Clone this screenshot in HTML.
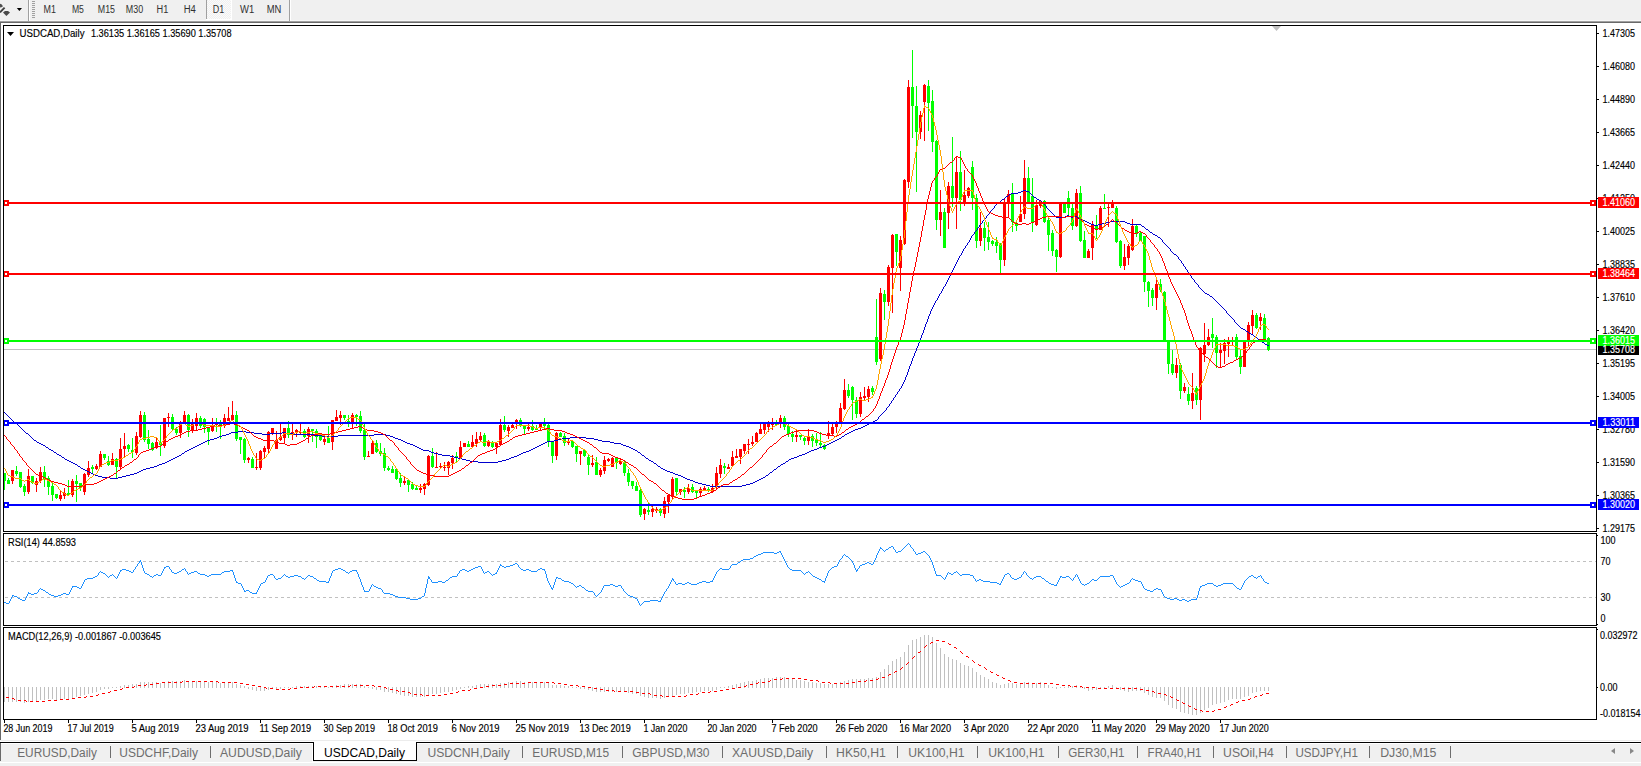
<!DOCTYPE html>
<html><head><meta charset="utf-8"><style>
html,body{margin:0;padding:0;background:#fff;overflow:hidden;}
svg{display:block;font-family:"Liberation Sans", sans-serif;}
</style></head><body>
<svg width="1641" height="766" viewBox="0 0 1641 766">
<rect x="0" y="0" width="1641" height="21" fill="#f0f0f0"/>
<rect x="0" y="20" width="1641" height="1" fill="#f7f7f7"/>
<rect x="0" y="21" width="1641" height="1" fill="#a0a0a0"/>
<rect x="0" y="22" width="1641" height="1" fill="#696969"/>
<rect x="28" y="0" width="1" height="21" fill="#a0a0a0"/>
<rect x="29" y="0" width="1" height="21" fill="#fff"/>
<rect x="206" y="0" width="1" height="19" fill="#a0a0a0"/>
<rect x="289" y="0" width="1" height="21" fill="#a0a0a0"/>
<rect x="290" y="0" width="1" height="21" fill="#fff"/>
<rect x="32" y="1" width="3" height="1" fill="#a0a0a0"/>
<rect x="32" y="3" width="3" height="1" fill="#a0a0a0"/>
<rect x="32" y="5" width="3" height="1" fill="#a0a0a0"/>
<rect x="32" y="7" width="3" height="1" fill="#a0a0a0"/>
<rect x="32" y="9" width="3" height="1" fill="#a0a0a0"/>
<rect x="32" y="11" width="3" height="1" fill="#a0a0a0"/>
<rect x="32" y="13" width="3" height="1" fill="#a0a0a0"/>
<rect x="32" y="15" width="3" height="1" fill="#a0a0a0"/>
<rect x="32" y="17" width="3" height="1" fill="#a0a0a0"/>
<defs><pattern id="dot" width="2" height="2" patternUnits="userSpaceOnUse"><rect width="2" height="2" fill="#f0f0f0"/><rect width="1" height="1" fill="#fbfbfb"/><rect x="1" y="1" width="1" height="1" fill="#fbfbfb"/></pattern></defs>
<rect x="207" y="0" width="24" height="19" fill="url(#dot)"/>
<rect x="231" y="0" width="1" height="20" fill="#fff"/>
<rect x="206" y="19" width="26" height="1" fill="#fff"/>
<path d="M0 3.8 L1.5 4.3 L3 6.2 L1.5 7.2 L0 7.4 Z" fill="#505050"/>
<path d="M4.6 7.6 L0 12.4" stroke="#404040" stroke-width="1.9" fill="none"/>
<path d="M5 11 L8 11 L10 12.4 L6.4 16 L3 12.4 Z" fill="#4a4a4a"/>
<path d="M16.8 8 L22 8 L19.4 10.9 Z" fill="#000"/>
<text x="43.6" y="12.8" font-size="10" fill="#303030" stroke="#303030" stroke-width="0" textLength="12.4" lengthAdjust="spacingAndGlyphs">M1</text>
<text x="71.9" y="12.8" font-size="10" fill="#303030" stroke="#303030" stroke-width="0" textLength="12" lengthAdjust="spacingAndGlyphs">M5</text>
<text x="97.8" y="12.8" font-size="10" fill="#303030" stroke="#303030" stroke-width="0" textLength="17.2" lengthAdjust="spacingAndGlyphs">M15</text>
<text x="125.8" y="12.8" font-size="10" fill="#303030" stroke="#303030" stroke-width="0" textLength="17.3" lengthAdjust="spacingAndGlyphs">M30</text>
<text x="156.5" y="12.8" font-size="10" fill="#303030" stroke="#303030" stroke-width="0" textLength="11.8" lengthAdjust="spacingAndGlyphs">H1</text>
<text x="183.7" y="12.8" font-size="10" fill="#303030" stroke="#303030" stroke-width="0" textLength="12.2" lengthAdjust="spacingAndGlyphs">H4</text>
<text x="212.7" y="12.8" font-size="10" fill="#303030" stroke="#303030" stroke-width="0" textLength="11.5" lengthAdjust="spacingAndGlyphs">D1</text>
<text x="240" y="12.8" font-size="10" fill="#303030" stroke="#303030" stroke-width="0" textLength="14.2" lengthAdjust="spacingAndGlyphs">W1</text>
<text x="266.7" y="12.8" font-size="10" fill="#303030" stroke="#303030" stroke-width="0" textLength="14.6" lengthAdjust="spacingAndGlyphs">MN</text>
<rect x="0" y="23" width="1641" height="720" fill="#fff"/>
<rect x="0" y="22" width="1" height="718" fill="#696969"/>
<defs><clipPath id="cm"><rect x="4" y="26" width="1592" height="505"/></clipPath><clipPath id="cr"><rect x="4" y="534" width="1592" height="91"/></clipPath><clipPath id="cd"><rect x="4" y="628" width="1592" height="91"/></clipPath></defs>
<g clip-path="url(#cm)">
<rect x="4" y="349" width="1592" height="1" fill="#c0c0c0"/>
<g shape-rendering="crispEdges">
<rect x="4" y="473" width="1" height="17" fill="#00ff00"/>
<rect x="3" y="473" width="3" height="8" fill="#00ff00"/>
<rect x="8" y="478" width="1" height="6" fill="#00ff00"/>
<rect x="7" y="480" width="3" height="4" fill="#00ff00"/>
<rect x="12" y="470" width="1" height="14" fill="#ff0000"/>
<rect x="11" y="470" width="3" height="11" fill="#ff0000"/>
<rect x="16" y="466" width="1" height="10" fill="#00ff00"/>
<rect x="15" y="471" width="3" height="3" fill="#00ff00"/>
<rect x="20" y="472" width="1" height="16" fill="#00ff00"/>
<rect x="19" y="472" width="3" height="15" fill="#00ff00"/>
<rect x="24" y="484" width="1" height="12" fill="#00ff00"/>
<rect x="23" y="486" width="3" height="6" fill="#00ff00"/>
<rect x="28" y="469" width="1" height="25" fill="#ff0000"/>
<rect x="27" y="476" width="3" height="16" fill="#ff0000"/>
<rect x="32" y="476" width="1" height="8" fill="#00ff00"/>
<rect x="31" y="476" width="3" height="7" fill="#00ff00"/>
<rect x="36" y="478" width="1" height="14" fill="#ff0000"/>
<rect x="35" y="481" width="3" height="4" fill="#ff0000"/>
<rect x="40" y="467" width="1" height="16" fill="#ff0000"/>
<rect x="39" y="472" width="3" height="9" fill="#ff0000"/>
<rect x="44" y="466" width="1" height="21" fill="#00ff00"/>
<rect x="43" y="472" width="3" height="7" fill="#00ff00"/>
<rect x="48" y="476" width="1" height="19" fill="#00ff00"/>
<rect x="47" y="478" width="3" height="9" fill="#00ff00"/>
<rect x="52" y="483" width="1" height="18" fill="#00ff00"/>
<rect x="51" y="486" width="3" height="9" fill="#00ff00"/>
<rect x="56" y="494" width="1" height="5" fill="#00ff00"/>
<rect x="55" y="494" width="3" height="4" fill="#00ff00"/>
<rect x="60" y="491" width="1" height="10" fill="#ff0000"/>
<rect x="59" y="495" width="3" height="4" fill="#ff0000"/>
<rect x="64" y="488" width="1" height="11" fill="#ff0000"/>
<rect x="63" y="493" width="3" height="3" fill="#ff0000"/>
<rect x="68" y="480" width="1" height="15" fill="#00ff00"/>
<rect x="67" y="493" width="3" height="2" fill="#00ff00"/>
<rect x="72" y="479" width="1" height="18" fill="#ff0000"/>
<rect x="71" y="481" width="3" height="14" fill="#ff0000"/>
<rect x="76" y="475" width="1" height="27" fill="#00ff00"/>
<rect x="75" y="481" width="3" height="3" fill="#00ff00"/>
<rect x="80" y="483" width="1" height="8" fill="#00ff00"/>
<rect x="79" y="483" width="3" height="5" fill="#00ff00"/>
<rect x="84" y="473" width="1" height="22" fill="#ff0000"/>
<rect x="83" y="474" width="3" height="18" fill="#ff0000"/>
<rect x="88" y="461" width="1" height="16" fill="#ff0000"/>
<rect x="87" y="468" width="3" height="7" fill="#ff0000"/>
<rect x="92" y="465" width="1" height="9" fill="#00ff00"/>
<rect x="91" y="467" width="3" height="2" fill="#00ff00"/>
<rect x="96" y="464" width="1" height="6" fill="#ff0000"/>
<rect x="95" y="466" width="3" height="3" fill="#ff0000"/>
<rect x="100" y="451" width="1" height="16" fill="#ff0000"/>
<rect x="99" y="454" width="3" height="13" fill="#ff0000"/>
<rect x="104" y="454" width="1" height="6" fill="#00ff00"/>
<rect x="103" y="454" width="3" height="4" fill="#00ff00"/>
<rect x="108" y="456" width="1" height="10" fill="#00ff00"/>
<rect x="107" y="461" width="3" height="4" fill="#00ff00"/>
<rect x="112" y="453" width="1" height="12" fill="#ff0000"/>
<rect x="111" y="459" width="3" height="6" fill="#ff0000"/>
<rect x="116" y="458" width="1" height="20" fill="#00ff00"/>
<rect x="115" y="459" width="3" height="8" fill="#00ff00"/>
<rect x="120" y="438" width="1" height="31" fill="#ff0000"/>
<rect x="119" y="449" width="3" height="18" fill="#ff0000"/>
<rect x="124" y="433" width="1" height="24" fill="#ff0000"/>
<rect x="123" y="446" width="3" height="3" fill="#ff0000"/>
<rect x="128" y="444" width="1" height="8" fill="#00ff00"/>
<rect x="127" y="445" width="3" height="4" fill="#00ff00"/>
<rect x="132" y="438" width="1" height="20" fill="#00ff00"/>
<rect x="131" y="450" width="3" height="2" fill="#00ff00"/>
<rect x="136" y="432" width="1" height="23" fill="#ff0000"/>
<rect x="135" y="436" width="3" height="17" fill="#ff0000"/>
<rect x="140" y="411" width="1" height="27" fill="#ff0000"/>
<rect x="139" y="415" width="3" height="22" fill="#ff0000"/>
<rect x="144" y="412" width="1" height="30" fill="#00ff00"/>
<rect x="143" y="415" width="3" height="25" fill="#00ff00"/>
<rect x="148" y="430" width="1" height="19" fill="#00ff00"/>
<rect x="147" y="439" width="3" height="5" fill="#00ff00"/>
<rect x="152" y="442" width="1" height="9" fill="#00ff00"/>
<rect x="151" y="443" width="3" height="7" fill="#00ff00"/>
<rect x="156" y="437" width="1" height="12" fill="#ff0000"/>
<rect x="155" y="442" width="3" height="6" fill="#ff0000"/>
<rect x="160" y="425" width="1" height="31" fill="#00ff00"/>
<rect x="159" y="443" width="3" height="2" fill="#00ff00"/>
<rect x="164" y="418" width="1" height="30" fill="#ff0000"/>
<rect x="163" y="418" width="3" height="28" fill="#ff0000"/>
<rect x="168" y="413" width="1" height="14" fill="#ff0000"/>
<rect x="167" y="417" width="3" height="1" fill="#ff0000"/>
<rect x="172" y="414" width="1" height="16" fill="#00ff00"/>
<rect x="171" y="417" width="3" height="12" fill="#00ff00"/>
<rect x="176" y="427" width="1" height="8" fill="#00ff00"/>
<rect x="175" y="429" width="3" height="4" fill="#00ff00"/>
<rect x="180" y="421" width="1" height="17" fill="#ff0000"/>
<rect x="179" y="424" width="3" height="9" fill="#ff0000"/>
<rect x="184" y="411" width="1" height="13" fill="#ff0000"/>
<rect x="183" y="415" width="3" height="8" fill="#ff0000"/>
<rect x="188" y="414" width="1" height="23" fill="#00ff00"/>
<rect x="187" y="415" width="3" height="15" fill="#00ff00"/>
<rect x="192" y="419" width="1" height="14" fill="#ff0000"/>
<rect x="191" y="424" width="3" height="6" fill="#ff0000"/>
<rect x="196" y="413" width="1" height="17" fill="#ff0000"/>
<rect x="195" y="418" width="3" height="8" fill="#ff0000"/>
<rect x="200" y="416" width="1" height="12" fill="#00ff00"/>
<rect x="199" y="418" width="3" height="8" fill="#00ff00"/>
<rect x="204" y="418" width="1" height="15" fill="#00ff00"/>
<rect x="203" y="419" width="3" height="8" fill="#00ff00"/>
<rect x="208" y="427" width="1" height="18" fill="#00ff00"/>
<rect x="207" y="428" width="3" height="4" fill="#00ff00"/>
<rect x="212" y="418" width="1" height="14" fill="#ff0000"/>
<rect x="211" y="425" width="3" height="6" fill="#ff0000"/>
<rect x="216" y="418" width="1" height="14" fill="#00ff00"/>
<rect x="215" y="423" width="3" height="2" fill="#00ff00"/>
<rect x="220" y="420" width="1" height="19" fill="#00ff00"/>
<rect x="219" y="422" width="3" height="4" fill="#00ff00"/>
<rect x="224" y="414" width="1" height="14" fill="#ff0000"/>
<rect x="223" y="418" width="3" height="8" fill="#ff0000"/>
<rect x="228" y="407" width="1" height="14" fill="#ff0000"/>
<rect x="227" y="418" width="3" height="3" fill="#ff0000"/>
<rect x="232" y="401" width="1" height="20" fill="#ff0000"/>
<rect x="231" y="415" width="3" height="5" fill="#ff0000"/>
<rect x="236" y="411" width="1" height="30" fill="#00ff00"/>
<rect x="235" y="415" width="3" height="24" fill="#00ff00"/>
<rect x="240" y="437" width="1" height="17" fill="#00ff00"/>
<rect x="239" y="437" width="3" height="3" fill="#00ff00"/>
<rect x="244" y="438" width="1" height="25" fill="#00ff00"/>
<rect x="243" y="439" width="3" height="21" fill="#00ff00"/>
<rect x="248" y="457" width="1" height="6" fill="#ff0000"/>
<rect x="247" y="458" width="3" height="2" fill="#ff0000"/>
<rect x="252" y="457" width="1" height="11" fill="#00ff00"/>
<rect x="251" y="459" width="3" height="9" fill="#00ff00"/>
<rect x="256" y="453" width="1" height="17" fill="#ff0000"/>
<rect x="255" y="467" width="3" height="1" fill="#ff0000"/>
<rect x="260" y="450" width="1" height="20" fill="#ff0000"/>
<rect x="259" y="451" width="3" height="17" fill="#ff0000"/>
<rect x="264" y="446" width="1" height="12" fill="#ff0000"/>
<rect x="263" y="448" width="3" height="4" fill="#ff0000"/>
<rect x="268" y="431" width="1" height="23" fill="#ff0000"/>
<rect x="267" y="432" width="3" height="17" fill="#ff0000"/>
<rect x="272" y="428" width="1" height="7" fill="#ff0000"/>
<rect x="271" y="428" width="3" height="6" fill="#ff0000"/>
<rect x="276" y="431" width="1" height="18" fill="#ff0000"/>
<rect x="275" y="440" width="3" height="9" fill="#ff0000"/>
<rect x="280" y="424" width="1" height="17" fill="#ff0000"/>
<rect x="279" y="437" width="3" height="3" fill="#ff0000"/>
<rect x="284" y="428" width="1" height="15" fill="#ff0000"/>
<rect x="283" y="428" width="3" height="10" fill="#ff0000"/>
<rect x="288" y="421" width="1" height="17" fill="#00ff00"/>
<rect x="287" y="428" width="3" height="7" fill="#00ff00"/>
<rect x="292" y="424" width="1" height="16" fill="#ff0000"/>
<rect x="291" y="432" width="3" height="3" fill="#ff0000"/>
<rect x="296" y="429" width="1" height="8" fill="#ff0000"/>
<rect x="295" y="430" width="3" height="2" fill="#ff0000"/>
<rect x="300" y="424" width="1" height="10" fill="#ff0000"/>
<rect x="299" y="432" width="3" height="1" fill="#ff0000"/>
<rect x="304" y="429" width="1" height="9" fill="#00ff00"/>
<rect x="303" y="431" width="3" height="6" fill="#00ff00"/>
<rect x="308" y="427" width="1" height="16" fill="#ff0000"/>
<rect x="307" y="429" width="3" height="7" fill="#ff0000"/>
<rect x="312" y="429" width="1" height="13" fill="#00ff00"/>
<rect x="311" y="429" width="3" height="2" fill="#00ff00"/>
<rect x="316" y="429" width="1" height="19" fill="#00ff00"/>
<rect x="315" y="431" width="3" height="6" fill="#00ff00"/>
<rect x="320" y="434" width="1" height="7" fill="#00ff00"/>
<rect x="319" y="436" width="3" height="4" fill="#00ff00"/>
<rect x="324" y="437" width="1" height="8" fill="#ff0000"/>
<rect x="323" y="439" width="3" height="3" fill="#ff0000"/>
<rect x="328" y="426" width="1" height="17" fill="#00ff00"/>
<rect x="327" y="438" width="3" height="5" fill="#00ff00"/>
<rect x="332" y="420" width="1" height="30" fill="#ff0000"/>
<rect x="331" y="420" width="3" height="22" fill="#ff0000"/>
<rect x="336" y="410" width="1" height="11" fill="#ff0000"/>
<rect x="335" y="417" width="3" height="4" fill="#ff0000"/>
<rect x="340" y="411" width="1" height="14" fill="#ff0000"/>
<rect x="339" y="415" width="3" height="3" fill="#ff0000"/>
<rect x="344" y="415" width="1" height="5" fill="#00ff00"/>
<rect x="343" y="415" width="3" height="3" fill="#00ff00"/>
<rect x="348" y="415" width="1" height="12" fill="#00ff00"/>
<rect x="347" y="421" width="3" height="1" fill="#00ff00"/>
<rect x="352" y="413" width="1" height="15" fill="#ff0000"/>
<rect x="351" y="415" width="3" height="7" fill="#ff0000"/>
<rect x="356" y="414" width="1" height="12" fill="#00ff00"/>
<rect x="355" y="415" width="3" height="2" fill="#00ff00"/>
<rect x="360" y="411" width="1" height="22" fill="#00ff00"/>
<rect x="359" y="416" width="3" height="15" fill="#00ff00"/>
<rect x="364" y="424" width="1" height="36" fill="#00ff00"/>
<rect x="363" y="430" width="3" height="27" fill="#00ff00"/>
<rect x="368" y="451" width="1" height="6" fill="#ff0000"/>
<rect x="367" y="456" width="3" height="1" fill="#ff0000"/>
<rect x="372" y="441" width="1" height="13" fill="#ff0000"/>
<rect x="371" y="443" width="3" height="11" fill="#ff0000"/>
<rect x="376" y="440" width="1" height="13" fill="#00ff00"/>
<rect x="375" y="443" width="3" height="9" fill="#00ff00"/>
<rect x="380" y="443" width="1" height="13" fill="#00ff00"/>
<rect x="379" y="451" width="3" height="3" fill="#00ff00"/>
<rect x="384" y="448" width="1" height="23" fill="#00ff00"/>
<rect x="383" y="453" width="3" height="15" fill="#00ff00"/>
<rect x="388" y="466" width="1" height="5" fill="#00ff00"/>
<rect x="387" y="468" width="3" height="2" fill="#00ff00"/>
<rect x="392" y="466" width="1" height="7" fill="#00ff00"/>
<rect x="391" y="469" width="3" height="4" fill="#00ff00"/>
<rect x="396" y="469" width="1" height="11" fill="#00ff00"/>
<rect x="395" y="469" width="3" height="10" fill="#00ff00"/>
<rect x="400" y="473" width="1" height="14" fill="#00ff00"/>
<rect x="399" y="478" width="3" height="5" fill="#00ff00"/>
<rect x="404" y="477" width="1" height="8" fill="#ff0000"/>
<rect x="403" y="481" width="3" height="2" fill="#ff0000"/>
<rect x="408" y="480" width="1" height="12" fill="#00ff00"/>
<rect x="407" y="480" width="3" height="5" fill="#00ff00"/>
<rect x="412" y="482" width="1" height="8" fill="#00ff00"/>
<rect x="411" y="484" width="3" height="5" fill="#00ff00"/>
<rect x="416" y="486" width="1" height="4" fill="#00ff00"/>
<rect x="415" y="488" width="3" height="2" fill="#00ff00"/>
<rect x="420" y="484" width="1" height="9" fill="#ff0000"/>
<rect x="419" y="488" width="3" height="2" fill="#ff0000"/>
<rect x="424" y="483" width="1" height="12" fill="#ff0000"/>
<rect x="423" y="484" width="3" height="5" fill="#ff0000"/>
<rect x="428" y="455" width="1" height="31" fill="#ff0000"/>
<rect x="427" y="456" width="3" height="29" fill="#ff0000"/>
<rect x="432" y="448" width="1" height="20" fill="#00ff00"/>
<rect x="431" y="456" width="3" height="11" fill="#00ff00"/>
<rect x="436" y="452" width="1" height="15" fill="#ff0000"/>
<rect x="435" y="467" width="3" height="1" fill="#ff0000"/>
<rect x="440" y="463" width="1" height="5" fill="#ff0000"/>
<rect x="439" y="466" width="3" height="1" fill="#ff0000"/>
<rect x="444" y="462" width="1" height="9" fill="#ff0000"/>
<rect x="443" y="467" width="3" height="1" fill="#ff0000"/>
<rect x="448" y="461" width="1" height="14" fill="#ff0000"/>
<rect x="447" y="462" width="3" height="6" fill="#ff0000"/>
<rect x="452" y="455" width="1" height="14" fill="#ff0000"/>
<rect x="451" y="458" width="3" height="5" fill="#ff0000"/>
<rect x="456" y="452" width="1" height="10" fill="#00ff00"/>
<rect x="455" y="456" width="3" height="2" fill="#00ff00"/>
<rect x="460" y="441" width="1" height="17" fill="#ff0000"/>
<rect x="459" y="447" width="3" height="11" fill="#ff0000"/>
<rect x="464" y="443" width="1" height="4" fill="#ff0000"/>
<rect x="463" y="443" width="3" height="4" fill="#ff0000"/>
<rect x="468" y="441" width="1" height="6" fill="#00ff00"/>
<rect x="467" y="444" width="3" height="3" fill="#00ff00"/>
<rect x="472" y="435" width="1" height="12" fill="#ff0000"/>
<rect x="471" y="442" width="3" height="5" fill="#ff0000"/>
<rect x="476" y="432" width="1" height="15" fill="#ff0000"/>
<rect x="475" y="439" width="3" height="5" fill="#ff0000"/>
<rect x="480" y="432" width="1" height="9" fill="#ff0000"/>
<rect x="479" y="436" width="3" height="4" fill="#ff0000"/>
<rect x="484" y="433" width="1" height="14" fill="#00ff00"/>
<rect x="483" y="435" width="3" height="11" fill="#00ff00"/>
<rect x="488" y="440" width="1" height="7" fill="#ff0000"/>
<rect x="487" y="442" width="3" height="4" fill="#ff0000"/>
<rect x="492" y="441" width="1" height="7" fill="#00ff00"/>
<rect x="491" y="443" width="3" height="4" fill="#00ff00"/>
<rect x="496" y="443" width="1" height="11" fill="#ff0000"/>
<rect x="495" y="443" width="3" height="4" fill="#ff0000"/>
<rect x="500" y="419" width="1" height="26" fill="#ff0000"/>
<rect x="499" y="425" width="3" height="20" fill="#ff0000"/>
<rect x="504" y="416" width="1" height="16" fill="#00ff00"/>
<rect x="503" y="425" width="3" height="5" fill="#00ff00"/>
<rect x="508" y="425" width="1" height="12" fill="#ff0000"/>
<rect x="507" y="427" width="3" height="4" fill="#ff0000"/>
<rect x="512" y="424" width="1" height="4" fill="#ff0000"/>
<rect x="511" y="425" width="3" height="3" fill="#ff0000"/>
<rect x="516" y="419" width="1" height="10" fill="#ff0000"/>
<rect x="515" y="420" width="3" height="4" fill="#ff0000"/>
<rect x="520" y="418" width="1" height="9" fill="#00ff00"/>
<rect x="519" y="420" width="3" height="6" fill="#00ff00"/>
<rect x="524" y="426" width="1" height="8" fill="#00ff00"/>
<rect x="523" y="426" width="3" height="3" fill="#00ff00"/>
<rect x="528" y="424" width="1" height="7" fill="#ff0000"/>
<rect x="527" y="427" width="3" height="2" fill="#ff0000"/>
<rect x="532" y="420" width="1" height="11" fill="#00ff00"/>
<rect x="531" y="426" width="3" height="4" fill="#00ff00"/>
<rect x="536" y="425" width="1" height="5" fill="#00ff00"/>
<rect x="535" y="428" width="3" height="2" fill="#00ff00"/>
<rect x="540" y="424" width="1" height="6" fill="#ff0000"/>
<rect x="539" y="424" width="3" height="4" fill="#ff0000"/>
<rect x="544" y="418" width="1" height="11" fill="#00ff00"/>
<rect x="543" y="424" width="3" height="2" fill="#00ff00"/>
<rect x="548" y="424" width="1" height="23" fill="#00ff00"/>
<rect x="547" y="425" width="3" height="17" fill="#00ff00"/>
<rect x="552" y="441" width="1" height="22" fill="#00ff00"/>
<rect x="551" y="442" width="3" height="14" fill="#00ff00"/>
<rect x="556" y="432" width="1" height="28" fill="#ff0000"/>
<rect x="555" y="433" width="3" height="23" fill="#ff0000"/>
<rect x="560" y="432" width="1" height="5" fill="#00ff00"/>
<rect x="559" y="433" width="3" height="4" fill="#00ff00"/>
<rect x="564" y="433" width="1" height="13" fill="#00ff00"/>
<rect x="563" y="436" width="3" height="7" fill="#00ff00"/>
<rect x="568" y="438" width="1" height="7" fill="#ff0000"/>
<rect x="567" y="442" width="3" height="1" fill="#ff0000"/>
<rect x="572" y="440" width="1" height="8" fill="#00ff00"/>
<rect x="571" y="441" width="3" height="6" fill="#00ff00"/>
<rect x="576" y="446" width="1" height="16" fill="#00ff00"/>
<rect x="575" y="446" width="3" height="8" fill="#00ff00"/>
<rect x="580" y="451" width="1" height="14" fill="#ff0000"/>
<rect x="579" y="451" width="3" height="3" fill="#ff0000"/>
<rect x="584" y="450" width="1" height="7" fill="#00ff00"/>
<rect x="583" y="450" width="3" height="6" fill="#00ff00"/>
<rect x="588" y="455" width="1" height="20" fill="#00ff00"/>
<rect x="587" y="457" width="3" height="8" fill="#00ff00"/>
<rect x="592" y="455" width="1" height="12" fill="#ff0000"/>
<rect x="591" y="463" width="3" height="2" fill="#ff0000"/>
<rect x="596" y="457" width="1" height="18" fill="#00ff00"/>
<rect x="595" y="462" width="3" height="13" fill="#00ff00"/>
<rect x="600" y="468" width="1" height="9" fill="#ff0000"/>
<rect x="599" y="470" width="3" height="5" fill="#ff0000"/>
<rect x="604" y="456" width="1" height="18" fill="#ff0000"/>
<rect x="603" y="460" width="3" height="11" fill="#ff0000"/>
<rect x="608" y="458" width="1" height="4" fill="#ff0000"/>
<rect x="607" y="459" width="3" height="2" fill="#ff0000"/>
<rect x="612" y="457" width="1" height="10" fill="#ff0000"/>
<rect x="611" y="458" width="3" height="9" fill="#ff0000"/>
<rect x="616" y="458" width="1" height="11" fill="#00ff00"/>
<rect x="615" y="458" width="3" height="5" fill="#00ff00"/>
<rect x="620" y="459" width="1" height="6" fill="#ff0000"/>
<rect x="619" y="461" width="3" height="3" fill="#ff0000"/>
<rect x="624" y="461" width="1" height="15" fill="#00ff00"/>
<rect x="623" y="462" width="3" height="11" fill="#00ff00"/>
<rect x="628" y="469" width="1" height="17" fill="#00ff00"/>
<rect x="627" y="473" width="3" height="9" fill="#00ff00"/>
<rect x="632" y="481" width="1" height="8" fill="#00ff00"/>
<rect x="631" y="481" width="3" height="5" fill="#00ff00"/>
<rect x="636" y="482" width="1" height="9" fill="#00ff00"/>
<rect x="635" y="486" width="3" height="5" fill="#00ff00"/>
<rect x="640" y="487" width="1" height="30" fill="#00ff00"/>
<rect x="639" y="490" width="3" height="25" fill="#00ff00"/>
<rect x="644" y="508" width="1" height="12" fill="#ff0000"/>
<rect x="643" y="509" width="3" height="5" fill="#ff0000"/>
<rect x="648" y="503" width="1" height="12" fill="#00ff00"/>
<rect x="647" y="510" width="3" height="2" fill="#00ff00"/>
<rect x="652" y="506" width="1" height="11" fill="#ff0000"/>
<rect x="651" y="509" width="3" height="3" fill="#ff0000"/>
<rect x="656" y="507" width="1" height="6" fill="#ff0000"/>
<rect x="655" y="509" width="3" height="2" fill="#ff0000"/>
<rect x="660" y="508" width="1" height="8" fill="#00ff00"/>
<rect x="659" y="509" width="3" height="4" fill="#00ff00"/>
<rect x="664" y="497" width="1" height="21" fill="#ff0000"/>
<rect x="663" y="501" width="3" height="13" fill="#ff0000"/>
<rect x="668" y="494" width="1" height="19" fill="#ff0000"/>
<rect x="667" y="495" width="3" height="7" fill="#ff0000"/>
<rect x="672" y="477" width="1" height="22" fill="#ff0000"/>
<rect x="671" y="479" width="3" height="18" fill="#ff0000"/>
<rect x="676" y="478" width="1" height="18" fill="#00ff00"/>
<rect x="675" y="478" width="3" height="14" fill="#00ff00"/>
<rect x="680" y="489" width="1" height="6" fill="#ff0000"/>
<rect x="679" y="489" width="3" height="3" fill="#ff0000"/>
<rect x="684" y="487" width="1" height="11" fill="#00ff00"/>
<rect x="683" y="490" width="3" height="2" fill="#00ff00"/>
<rect x="688" y="484" width="1" height="10" fill="#ff0000"/>
<rect x="687" y="488" width="3" height="4" fill="#ff0000"/>
<rect x="692" y="484" width="1" height="9" fill="#00ff00"/>
<rect x="691" y="487" width="3" height="5" fill="#00ff00"/>
<rect x="696" y="490" width="1" height="8" fill="#00ff00"/>
<rect x="695" y="491" width="3" height="2" fill="#00ff00"/>
<rect x="700" y="487" width="1" height="10" fill="#ff0000"/>
<rect x="699" y="489" width="3" height="4" fill="#ff0000"/>
<rect x="704" y="486" width="1" height="5" fill="#ff0000"/>
<rect x="703" y="488" width="3" height="3" fill="#ff0000"/>
<rect x="708" y="487" width="1" height="5" fill="#00ff00"/>
<rect x="707" y="489" width="3" height="2" fill="#00ff00"/>
<rect x="712" y="484" width="1" height="8" fill="#ff0000"/>
<rect x="711" y="488" width="3" height="4" fill="#ff0000"/>
<rect x="716" y="467" width="1" height="22" fill="#ff0000"/>
<rect x="715" y="473" width="3" height="14" fill="#ff0000"/>
<rect x="720" y="459" width="1" height="19" fill="#ff0000"/>
<rect x="719" y="465" width="3" height="9" fill="#ff0000"/>
<rect x="724" y="463" width="1" height="11" fill="#00ff00"/>
<rect x="723" y="466" width="3" height="2" fill="#00ff00"/>
<rect x="728" y="464" width="1" height="5" fill="#ff0000"/>
<rect x="727" y="467" width="3" height="2" fill="#ff0000"/>
<rect x="732" y="451" width="1" height="15" fill="#ff0000"/>
<rect x="731" y="457" width="3" height="9" fill="#ff0000"/>
<rect x="736" y="449" width="1" height="9" fill="#ff0000"/>
<rect x="735" y="456" width="3" height="2" fill="#ff0000"/>
<rect x="740" y="449" width="1" height="15" fill="#ff0000"/>
<rect x="739" y="449" width="3" height="8" fill="#ff0000"/>
<rect x="744" y="444" width="1" height="10" fill="#ff0000"/>
<rect x="743" y="444" width="3" height="7" fill="#ff0000"/>
<rect x="748" y="439" width="1" height="15" fill="#ff0000"/>
<rect x="747" y="444" width="3" height="1" fill="#ff0000"/>
<rect x="752" y="436" width="1" height="10" fill="#ff0000"/>
<rect x="751" y="442" width="3" height="2" fill="#ff0000"/>
<rect x="756" y="432" width="1" height="10" fill="#ff0000"/>
<rect x="755" y="433" width="3" height="9" fill="#ff0000"/>
<rect x="760" y="424" width="1" height="10" fill="#ff0000"/>
<rect x="759" y="429" width="3" height="5" fill="#ff0000"/>
<rect x="764" y="424" width="1" height="10" fill="#ff0000"/>
<rect x="763" y="424" width="3" height="6" fill="#ff0000"/>
<rect x="768" y="421" width="1" height="11" fill="#ff0000"/>
<rect x="767" y="424" width="3" height="3" fill="#ff0000"/>
<rect x="772" y="418" width="1" height="12" fill="#ff0000"/>
<rect x="771" y="424" width="3" height="1" fill="#ff0000"/>
<rect x="776" y="420" width="1" height="5" fill="#00ff00"/>
<rect x="775" y="423" width="3" height="2" fill="#00ff00"/>
<rect x="780" y="415" width="1" height="13" fill="#ff0000"/>
<rect x="779" y="418" width="3" height="4" fill="#ff0000"/>
<rect x="784" y="416" width="1" height="14" fill="#00ff00"/>
<rect x="783" y="418" width="3" height="9" fill="#00ff00"/>
<rect x="788" y="424" width="1" height="13" fill="#00ff00"/>
<rect x="787" y="426" width="3" height="8" fill="#00ff00"/>
<rect x="792" y="431" width="1" height="11" fill="#00ff00"/>
<rect x="791" y="434" width="3" height="3" fill="#00ff00"/>
<rect x="796" y="430" width="1" height="12" fill="#ff0000"/>
<rect x="795" y="435" width="3" height="2" fill="#ff0000"/>
<rect x="800" y="435" width="1" height="5" fill="#00ff00"/>
<rect x="799" y="435" width="3" height="2" fill="#00ff00"/>
<rect x="804" y="437" width="1" height="8" fill="#00ff00"/>
<rect x="803" y="438" width="3" height="3" fill="#00ff00"/>
<rect x="808" y="429" width="1" height="16" fill="#ff0000"/>
<rect x="807" y="436" width="3" height="5" fill="#ff0000"/>
<rect x="812" y="434" width="1" height="13" fill="#00ff00"/>
<rect x="811" y="436" width="3" height="5" fill="#00ff00"/>
<rect x="816" y="433" width="1" height="13" fill="#00ff00"/>
<rect x="815" y="440" width="3" height="3" fill="#00ff00"/>
<rect x="820" y="432" width="1" height="15" fill="#00ff00"/>
<rect x="819" y="443" width="3" height="2" fill="#00ff00"/>
<rect x="824" y="444" width="1" height="6" fill="#00ff00"/>
<rect x="823" y="445" width="3" height="4" fill="#00ff00"/>
<rect x="828" y="421" width="1" height="18" fill="#ff0000"/>
<rect x="827" y="433" width="3" height="3" fill="#ff0000"/>
<rect x="832" y="424" width="1" height="11" fill="#ff0000"/>
<rect x="831" y="427" width="3" height="7" fill="#ff0000"/>
<rect x="836" y="421" width="1" height="12" fill="#ff0000"/>
<rect x="835" y="424" width="3" height="3" fill="#ff0000"/>
<rect x="840" y="403" width="1" height="21" fill="#ff0000"/>
<rect x="839" y="408" width="3" height="15" fill="#ff0000"/>
<rect x="844" y="379" width="1" height="31" fill="#ff0000"/>
<rect x="843" y="390" width="3" height="19" fill="#ff0000"/>
<rect x="848" y="384" width="1" height="14" fill="#00ff00"/>
<rect x="847" y="390" width="3" height="6" fill="#00ff00"/>
<rect x="852" y="386" width="1" height="34" fill="#00ff00"/>
<rect x="851" y="387" width="3" height="13" fill="#00ff00"/>
<rect x="856" y="397" width="1" height="21" fill="#00ff00"/>
<rect x="855" y="400" width="3" height="14" fill="#00ff00"/>
<rect x="860" y="392" width="1" height="25" fill="#ff0000"/>
<rect x="859" y="397" width="3" height="17" fill="#ff0000"/>
<rect x="864" y="387" width="1" height="14" fill="#ff0000"/>
<rect x="863" y="396" width="3" height="2" fill="#ff0000"/>
<rect x="868" y="386" width="1" height="16" fill="#ff0000"/>
<rect x="867" y="389" width="3" height="8" fill="#ff0000"/>
<rect x="872" y="386" width="1" height="9" fill="#00ff00"/>
<rect x="871" y="388" width="3" height="4" fill="#00ff00"/>
<rect x="876" y="299" width="1" height="66" fill="#00ff00"/>
<rect x="875" y="337" width="3" height="25" fill="#00ff00"/>
<rect x="880" y="288" width="1" height="73" fill="#ff0000"/>
<rect x="879" y="293" width="3" height="66" fill="#ff0000"/>
<rect x="884" y="290" width="1" height="30" fill="#00ff00"/>
<rect x="883" y="294" width="3" height="8" fill="#00ff00"/>
<rect x="888" y="265" width="1" height="41" fill="#ff0000"/>
<rect x="887" y="267" width="3" height="35" fill="#ff0000"/>
<rect x="892" y="234" width="1" height="79" fill="#ff0000"/>
<rect x="891" y="235" width="3" height="33" fill="#ff0000"/>
<rect x="896" y="234" width="1" height="32" fill="#00ff00"/>
<rect x="895" y="234" width="3" height="18" fill="#00ff00"/>
<rect x="900" y="236" width="1" height="55" fill="#ff0000"/>
<rect x="899" y="240" width="3" height="28" fill="#ff0000"/>
<rect x="904" y="179" width="1" height="66" fill="#ff0000"/>
<rect x="903" y="180" width="3" height="64" fill="#ff0000"/>
<rect x="908" y="80" width="1" height="108" fill="#ff0000"/>
<rect x="907" y="87" width="3" height="95" fill="#ff0000"/>
<rect x="912" y="50" width="1" height="88" fill="#00ff00"/>
<rect x="911" y="87" width="3" height="19" fill="#00ff00"/>
<rect x="916" y="86" width="1" height="106" fill="#00ff00"/>
<rect x="915" y="106" width="3" height="26" fill="#00ff00"/>
<rect x="920" y="111" width="1" height="28" fill="#ff0000"/>
<rect x="919" y="115" width="3" height="17" fill="#ff0000"/>
<rect x="924" y="84" width="1" height="57" fill="#ff0000"/>
<rect x="923" y="85" width="3" height="17" fill="#ff0000"/>
<rect x="928" y="80" width="1" height="51" fill="#00ff00"/>
<rect x="927" y="86" width="3" height="17" fill="#00ff00"/>
<rect x="932" y="90" width="1" height="62" fill="#00ff00"/>
<rect x="931" y="101" width="3" height="41" fill="#00ff00"/>
<rect x="936" y="140" width="1" height="90" fill="#00ff00"/>
<rect x="935" y="141" width="3" height="79" fill="#00ff00"/>
<rect x="940" y="190" width="1" height="46" fill="#ff0000"/>
<rect x="939" y="212" width="3" height="8" fill="#ff0000"/>
<rect x="944" y="208" width="1" height="40" fill="#00ff00"/>
<rect x="943" y="212" width="3" height="36" fill="#00ff00"/>
<rect x="948" y="182" width="1" height="47" fill="#ff0000"/>
<rect x="947" y="186" width="3" height="27" fill="#ff0000"/>
<rect x="952" y="137" width="1" height="70" fill="#00ff00"/>
<rect x="951" y="186" width="3" height="12" fill="#00ff00"/>
<rect x="956" y="156" width="1" height="73" fill="#ff0000"/>
<rect x="955" y="172" width="3" height="26" fill="#ff0000"/>
<rect x="960" y="151" width="1" height="60" fill="#00ff00"/>
<rect x="959" y="172" width="3" height="28" fill="#00ff00"/>
<rect x="964" y="170" width="1" height="36" fill="#ff0000"/>
<rect x="963" y="195" width="3" height="8" fill="#ff0000"/>
<rect x="968" y="187" width="1" height="11" fill="#ff0000"/>
<rect x="967" y="188" width="3" height="8" fill="#ff0000"/>
<rect x="972" y="161" width="1" height="49" fill="#00ff00"/>
<rect x="971" y="167" width="3" height="31" fill="#00ff00"/>
<rect x="976" y="194" width="1" height="54" fill="#00ff00"/>
<rect x="975" y="198" width="3" height="43" fill="#00ff00"/>
<rect x="980" y="212" width="1" height="34" fill="#ff0000"/>
<rect x="979" y="228" width="3" height="13" fill="#ff0000"/>
<rect x="984" y="222" width="1" height="29" fill="#00ff00"/>
<rect x="983" y="228" width="3" height="10" fill="#00ff00"/>
<rect x="988" y="222" width="1" height="28" fill="#00ff00"/>
<rect x="987" y="237" width="3" height="5" fill="#00ff00"/>
<rect x="992" y="240" width="1" height="6" fill="#00ff00"/>
<rect x="991" y="241" width="3" height="3" fill="#00ff00"/>
<rect x="996" y="237" width="1" height="16" fill="#00ff00"/>
<rect x="995" y="242" width="3" height="4" fill="#00ff00"/>
<rect x="1000" y="243" width="1" height="30" fill="#00ff00"/>
<rect x="999" y="244" width="3" height="16" fill="#00ff00"/>
<rect x="1004" y="198" width="1" height="68" fill="#ff0000"/>
<rect x="1003" y="204" width="3" height="56" fill="#ff0000"/>
<rect x="1008" y="190" width="1" height="27" fill="#ff0000"/>
<rect x="1007" y="194" width="3" height="9" fill="#ff0000"/>
<rect x="1012" y="183" width="1" height="49" fill="#00ff00"/>
<rect x="1011" y="193" width="3" height="29" fill="#00ff00"/>
<rect x="1016" y="222" width="1" height="9" fill="#00ff00"/>
<rect x="1015" y="224" width="3" height="2" fill="#00ff00"/>
<rect x="1020" y="196" width="1" height="26" fill="#ff0000"/>
<rect x="1019" y="214" width="3" height="8" fill="#ff0000"/>
<rect x="1024" y="160" width="1" height="59" fill="#ff0000"/>
<rect x="1023" y="178" width="3" height="36" fill="#ff0000"/>
<rect x="1028" y="167" width="1" height="35" fill="#00ff00"/>
<rect x="1027" y="178" width="3" height="24" fill="#00ff00"/>
<rect x="1032" y="178" width="1" height="54" fill="#00ff00"/>
<rect x="1031" y="196" width="3" height="27" fill="#00ff00"/>
<rect x="1036" y="200" width="1" height="26" fill="#ff0000"/>
<rect x="1035" y="205" width="3" height="20" fill="#ff0000"/>
<rect x="1040" y="200" width="1" height="8" fill="#ff0000"/>
<rect x="1039" y="201" width="3" height="5" fill="#ff0000"/>
<rect x="1044" y="200" width="1" height="23" fill="#00ff00"/>
<rect x="1043" y="201" width="3" height="21" fill="#00ff00"/>
<rect x="1048" y="217" width="1" height="34" fill="#00ff00"/>
<rect x="1047" y="220" width="3" height="15" fill="#00ff00"/>
<rect x="1052" y="230" width="1" height="26" fill="#00ff00"/>
<rect x="1051" y="233" width="3" height="18" fill="#00ff00"/>
<rect x="1056" y="249" width="1" height="23" fill="#00ff00"/>
<rect x="1055" y="250" width="3" height="7" fill="#00ff00"/>
<rect x="1060" y="202" width="1" height="56" fill="#ff0000"/>
<rect x="1059" y="204" width="3" height="53" fill="#ff0000"/>
<rect x="1064" y="203" width="1" height="10" fill="#00ff00"/>
<rect x="1063" y="204" width="3" height="9" fill="#00ff00"/>
<rect x="1068" y="191" width="1" height="25" fill="#00ff00"/>
<rect x="1067" y="198" width="3" height="10" fill="#00ff00"/>
<rect x="1072" y="203" width="1" height="27" fill="#00ff00"/>
<rect x="1071" y="208" width="3" height="18" fill="#00ff00"/>
<rect x="1076" y="189" width="1" height="38" fill="#ff0000"/>
<rect x="1075" y="193" width="3" height="33" fill="#ff0000"/>
<rect x="1080" y="186" width="1" height="56" fill="#00ff00"/>
<rect x="1079" y="193" width="3" height="48" fill="#00ff00"/>
<rect x="1084" y="231" width="1" height="27" fill="#00ff00"/>
<rect x="1083" y="240" width="3" height="18" fill="#00ff00"/>
<rect x="1088" y="249" width="1" height="9" fill="#ff0000"/>
<rect x="1087" y="251" width="3" height="7" fill="#ff0000"/>
<rect x="1092" y="221" width="1" height="39" fill="#ff0000"/>
<rect x="1091" y="225" width="3" height="23" fill="#ff0000"/>
<rect x="1096" y="215" width="1" height="24" fill="#00ff00"/>
<rect x="1095" y="226" width="3" height="4" fill="#00ff00"/>
<rect x="1100" y="206" width="1" height="24" fill="#ff0000"/>
<rect x="1099" y="208" width="3" height="22" fill="#ff0000"/>
<rect x="1104" y="194" width="1" height="15" fill="#00ff00"/>
<rect x="1103" y="208" width="3" height="1" fill="#00ff00"/>
<rect x="1108" y="203" width="1" height="24" fill="#ff0000"/>
<rect x="1107" y="207" width="3" height="1" fill="#ff0000"/>
<rect x="1112" y="200" width="1" height="8" fill="#ff0000"/>
<rect x="1111" y="203" width="3" height="5" fill="#ff0000"/>
<rect x="1116" y="206" width="1" height="37" fill="#00ff00"/>
<rect x="1115" y="208" width="3" height="34" fill="#00ff00"/>
<rect x="1120" y="240" width="1" height="28" fill="#00ff00"/>
<rect x="1119" y="241" width="3" height="25" fill="#00ff00"/>
<rect x="1124" y="244" width="1" height="26" fill="#ff0000"/>
<rect x="1123" y="257" width="3" height="9" fill="#ff0000"/>
<rect x="1128" y="244" width="1" height="21" fill="#ff0000"/>
<rect x="1127" y="246" width="3" height="12" fill="#ff0000"/>
<rect x="1132" y="219" width="1" height="32" fill="#ff0000"/>
<rect x="1131" y="226" width="3" height="24" fill="#ff0000"/>
<rect x="1136" y="225" width="1" height="12" fill="#00ff00"/>
<rect x="1135" y="226" width="3" height="8" fill="#00ff00"/>
<rect x="1140" y="231" width="1" height="10" fill="#00ff00"/>
<rect x="1139" y="233" width="3" height="8" fill="#00ff00"/>
<rect x="1144" y="236" width="1" height="56" fill="#00ff00"/>
<rect x="1143" y="236" width="3" height="46" fill="#00ff00"/>
<rect x="1148" y="281" width="1" height="26" fill="#00ff00"/>
<rect x="1147" y="282" width="3" height="9" fill="#00ff00"/>
<rect x="1152" y="288" width="1" height="18" fill="#00ff00"/>
<rect x="1151" y="290" width="3" height="8" fill="#00ff00"/>
<rect x="1156" y="280" width="1" height="30" fill="#ff0000"/>
<rect x="1155" y="284" width="3" height="14" fill="#ff0000"/>
<rect x="1160" y="279" width="1" height="13" fill="#00ff00"/>
<rect x="1159" y="284" width="3" height="6" fill="#00ff00"/>
<rect x="1164" y="291" width="1" height="51" fill="#00ff00"/>
<rect x="1163" y="292" width="3" height="50" fill="#00ff00"/>
<rect x="1168" y="340" width="1" height="34" fill="#00ff00"/>
<rect x="1167" y="341" width="3" height="23" fill="#00ff00"/>
<rect x="1172" y="350" width="1" height="25" fill="#00ff00"/>
<rect x="1171" y="364" width="3" height="9" fill="#00ff00"/>
<rect x="1176" y="358" width="1" height="20" fill="#ff0000"/>
<rect x="1175" y="365" width="3" height="8" fill="#ff0000"/>
<rect x="1180" y="363" width="1" height="36" fill="#00ff00"/>
<rect x="1179" y="365" width="3" height="26" fill="#00ff00"/>
<rect x="1184" y="383" width="1" height="10" fill="#ff0000"/>
<rect x="1183" y="387" width="3" height="4" fill="#ff0000"/>
<rect x="1188" y="387" width="1" height="18" fill="#00ff00"/>
<rect x="1187" y="394" width="3" height="7" fill="#00ff00"/>
<rect x="1192" y="373" width="1" height="36" fill="#ff0000"/>
<rect x="1191" y="393" width="3" height="8" fill="#ff0000"/>
<rect x="1196" y="386" width="1" height="19" fill="#00ff00"/>
<rect x="1195" y="388" width="3" height="12" fill="#00ff00"/>
<rect x="1200" y="347" width="1" height="73" fill="#ff0000"/>
<rect x="1199" y="348" width="3" height="52" fill="#ff0000"/>
<rect x="1204" y="323" width="1" height="39" fill="#ff0000"/>
<rect x="1203" y="345" width="3" height="9" fill="#ff0000"/>
<rect x="1208" y="329" width="1" height="17" fill="#ff0000"/>
<rect x="1207" y="337" width="3" height="8" fill="#ff0000"/>
<rect x="1212" y="318" width="1" height="30" fill="#00ff00"/>
<rect x="1211" y="334" width="3" height="4" fill="#00ff00"/>
<rect x="1216" y="335" width="1" height="33" fill="#00ff00"/>
<rect x="1215" y="337" width="3" height="16" fill="#00ff00"/>
<rect x="1220" y="343" width="1" height="24" fill="#ff0000"/>
<rect x="1219" y="350" width="3" height="3" fill="#ff0000"/>
<rect x="1224" y="339" width="1" height="25" fill="#ff0000"/>
<rect x="1223" y="343" width="3" height="8" fill="#ff0000"/>
<rect x="1228" y="337" width="1" height="20" fill="#ff0000"/>
<rect x="1227" y="342" width="3" height="2" fill="#ff0000"/>
<rect x="1232" y="337" width="1" height="8" fill="#ff0000"/>
<rect x="1231" y="340" width="3" height="1" fill="#ff0000"/>
<rect x="1236" y="334" width="1" height="25" fill="#00ff00"/>
<rect x="1235" y="337" width="3" height="20" fill="#00ff00"/>
<rect x="1240" y="349" width="1" height="25" fill="#00ff00"/>
<rect x="1239" y="356" width="3" height="11" fill="#00ff00"/>
<rect x="1244" y="342" width="1" height="25" fill="#ff0000"/>
<rect x="1243" y="342" width="3" height="25" fill="#ff0000"/>
<rect x="1248" y="322" width="1" height="24" fill="#ff0000"/>
<rect x="1247" y="325" width="3" height="15" fill="#ff0000"/>
<rect x="1252" y="310" width="1" height="24" fill="#ff0000"/>
<rect x="1251" y="315" width="3" height="11" fill="#ff0000"/>
<rect x="1256" y="313" width="1" height="16" fill="#00ff00"/>
<rect x="1255" y="315" width="3" height="13" fill="#00ff00"/>
<rect x="1260" y="313" width="1" height="17" fill="#ff0000"/>
<rect x="1259" y="317" width="3" height="4" fill="#ff0000"/>
<rect x="1264" y="314" width="1" height="26" fill="#00ff00"/>
<rect x="1263" y="318" width="3" height="21" fill="#00ff00"/>
<rect x="1268" y="337" width="1" height="14" fill="#00ff00"/>
<rect x="1267" y="338" width="3" height="12" fill="#00ff00"/>
</g>
<path d="M916 348h1v3h-1zM1046 206h1v2h-1zM913 356h1v2h-1zM929 314h1v2h-1zM903 382h1v2h-1zM912 358h1v3h-1zM1162 240h1v2h-1zM1198 285h1v2h-1zM920 338h1v3h-1zM928 316h1v3h-1zM902 384h1v2h-1zM911 361h1v3h-1zM955 264h1v2h-1zM926 322h1v2h-1zM951 272h1v2h-1zM994 206h1v2h-1zM979 225h1v2h-1zM974 232h1v2h-1zM909 366h1v3h-1zM970 238h1v2h-1zM918 343h1v3h-1zM954 266h1v2h-1zM906 375h1v2h-1zM1234 320h1v2h-1zM982 221h1v2h-1zM937 298h1v2h-1zM950 274h1v2h-1zM933 305h1v2h-1zM922 333h1v2h-1zM905 377h1v3h-1zM949 276h1v2h-1zM921 335h1v3h-1zM919 341h1v2h-1zM915 351h1v2h-1zM935 301h1v2h-1zM886 408h1v2h-1zM931 309h1v2h-1zM1183 264h1v2h-1zM946 282h1v2h-1zM961 253h1v2h-1zM901 386h1v2h-1zM1185 267h1v2h-1zM945 284h1v2h-1zM941 291h1v2h-1zM925 324h1v3h-1zM977 228h1v2h-1zM895 395h1v2h-1zM956 262h1v2h-1zM891 401h1v2h-1zM878 417h1v2h-1zM971 236h1v2h-1zM967 243h1v2h-1zM914 353h1v3h-1zM962 251h1v2h-1zM958 258h1v2h-1zM904 380h1v2h-1zM908 369h1v3h-1zM957 260h1v2h-1zM953 268h1v2h-1zM899 389h1v2h-1zM932 307h1v2h-1zM952 270h1v2h-1zM948 278h1v2h-1zM1187 270h1v2h-1zM930 311h1v3h-1zM1189 273h1v2h-1zM889 404h1v2h-1zM1170 249h1v2h-1zM924 327h1v3h-1zM1191 276h1v2h-1zM907 372h1v3h-1zM923 330h1v3h-1zM927 319h1v3h-1zM910 364h1v2h-1zM1226 311h1v2h-1zM917 346h1v2h-1zM1181 261h1v2h-1zM969 240h1v2h-1zM965 246h1v2h-1zM947 280h1v2h-1zM943 287h1v2h-1zM939 294h1v2h-1zM893 398h1v2h-1zM986 216h1v2h-1zM942 289h1v2h-1zM938 296h1v2h-1zM934 303h1v2h-1zM963 249h1v2h-1zM959 256h1v2h-1zM1194 280h1v2h-1zM897 392h1v2h-1zM990 211h1v2h-1zM1178 257h1v2h-1zM1229 315h1v1h-1zM28 434h1v1h-1zM226 434h3v1h-3zM262 434h8v1h-8zM294 434h20v1h-20zM374 434h12v1h-12zM845 434h2v1h-2zM81 468h2v1h-2zM146 468h4v1h-4zM661 468h2v1h-2zM776 468h1v1h-1zM1200 288h1v1h-1zM71 462h2v1h-2zM165 462h2v1h-2zM478 462h20v1h-20zM653 462h1v1h-1zM785 462h1v1h-1zM37 442h2v1h-2zM203 442h2v1h-2zM405 442h2v1h-2zM545 442h2v1h-2zM610 442h4v1h-4zM831 442h2v1h-2zM1230 316h1v1h-1zM41 444h2v1h-2zM199 444h2v1h-2zM410 444h3v1h-3zM541 444h2v1h-2zM621 444h2v1h-2zM827 444h2v1h-2zM102 477h8v1h-8zM118 477h4v1h-4zM683 477h2v1h-2zM763 477h2v1h-2zM69 461h2v1h-2zM167 461h2v1h-2zM470 461h8v1h-8zM498 461h4v1h-4zM651 461h2v1h-2zM786 461h2v1h-2zM1001 200h1v1h-1zM1039 200h2v1h-2zM18 425h1v1h-1zM865 425h2v1h-2zM1087 222h2v1h-2zM1106 222h4v1h-4zM1125 222h2v1h-2zM45 446h1v1h-1zM195 446h2v1h-2zM415 446h2v1h-2zM537 446h2v1h-2zM626 446h3v1h-3zM822 446h3v1h-3zM61 456h1v1h-1zM177 456h2v1h-2zM450 456h4v1h-4zM514 456h3v1h-3zM644 456h1v1h-1zM797 456h2v1h-2zM31 437h1v1h-1zM217 437h2v1h-2zM393 437h2v1h-2zM570 437h16v1h-16zM841 437h1v1h-1zM710 486h32v1h-32zM62 457h2v1h-2zM175 457h2v1h-2zM454 457h4v1h-4zM511 457h3v1h-3zM645 457h1v1h-1zM794 457h3v1h-3zM67 460h2v1h-2zM169 460h2v1h-2zM466 460h4v1h-4zM502 460h4v1h-4zM649 460h2v1h-2zM788 460h1v1h-1zM972 235h1v1h-1zM1155 235h2v1h-2zM75 464h2v1h-2zM159 464h3v1h-3zM656 464h1v1h-1zM781 464h2v1h-2zM29 435h1v1h-1zM222 435h4v1h-4zM314 435h8v1h-8zM338 435h36v1h-36zM386 435h4v1h-4zM844 435h1v1h-1zM85 470h2v1h-2zM141 470h2v1h-2zM665 470h2v1h-2zM773 470h1v1h-1zM702 484h4v1h-4zM746 484h4v1h-4zM706 485h4v1h-4zM742 485h4v1h-4zM1094 225h4v1h-4zM1141 225h1v1h-1zM59 455h2v1h-2zM179 455h2v1h-2zM442 455h8v1h-8zM517 455h2v1h-2zM642 455h2v1h-2zM799 455h3v1h-3zM24 431h1v1h-1zM238 431h8v1h-8zM851 431h2v1h-2zM25 432h1v1h-1zM231 432h7v1h-7zM246 432h8v1h-8zM282 432h4v1h-4zM849 432h2v1h-2zM968 242h1v1h-1zM1163 242h1v1h-1zM49 449h2v1h-2zM189 449h2v1h-2zM421 449h2v1h-2zM531 449h2v1h-2zM633 449h2v1h-2zM814 449h3v1h-3zM91 473h2v1h-2zM134 473h3v1h-3zM673 473h2v1h-2zM769 473h1v1h-1zM1085 221h2v1h-2zM1110 221h15v1h-15zM26 433h2v1h-2zM229 433h2v1h-2zM254 433h8v1h-8zM270 433h12v1h-12zM286 433h8v1h-8zM847 433h2v1h-2zM43 445h2v1h-2zM197 445h2v1h-2zM413 445h2v1h-2zM539 445h2v1h-2zM623 445h3v1h-3zM825 445h2v1h-2zM78 466h2v1h-2zM154 466h3v1h-3zM658 466h2v1h-2zM778 466h2v1h-2zM110 478h8v1h-8zM685 478h2v1h-2zM761 478h2v1h-2zM988 214h1v1h-1zM1053 214h1v1h-1zM89 472h2v1h-2zM137 472h2v1h-2zM670 472h3v1h-3zM770 472h2v1h-2zM56 453h1v1h-1zM182 453h2v1h-2zM434 453h4v1h-4zM521 453h2v1h-2zM640 453h1v1h-1zM805 453h2v1h-2zM95 475h3v1h-3zM126 475h4v1h-4zM678 475h3v1h-3zM766 475h2v1h-2zM87 471h2v1h-2zM139 471h2v1h-2zM667 471h3v1h-3zM772 471h1v1h-1zM48 448h1v1h-1zM191 448h2v1h-2zM419 448h2v1h-2zM533 448h2v1h-2zM631 448h2v1h-2zM817 448h2v1h-2zM1150 232h2v1h-2zM73 463h2v1h-2zM162 463h3v1h-3zM654 463h2v1h-2zM783 463h2v1h-2zM51 450h2v1h-2zM187 450h2v1h-2zM423 450h6v1h-6zM529 450h2v1h-2zM635 450h2v1h-2zM811 450h3v1h-3zM16 423h1v1h-1zM869 423h2v1h-2zM5 413h1v1h-1zM882 413h1v1h-1zM17 424h1v1h-1zM867 424h2v1h-2zM23 430h1v1h-1zM853 430h2v1h-2zM6 414h1v1h-1zM881 414h1v1h-1zM93 474h2v1h-2zM130 474h4v1h-4zM675 474h3v1h-3zM768 474h1v1h-1zM65 459h2v1h-2zM171 459h2v1h-2zM462 459h4v1h-4zM506 459h3v1h-3zM648 459h1v1h-1zM789 459h2v1h-2zM1056 217h9v1h-9zM1071 217h3v1h-3zM1077 217h1v1h-1zM1021 191h2v1h-2zM1026 191h3v1h-3zM33 439h1v1h-1zM210 439h4v1h-4zM398 439h3v1h-3zM558 439h4v1h-4zM594 439h4v1h-4zM837 439h2v1h-2zM996 204h1v1h-1zM1044 204h1v1h-1zM698 483h4v1h-4zM750 483h3v1h-3zM964 248h1v1h-1zM1169 248h1v1h-1zM32 438h1v1h-1zM214 438h3v1h-3zM395 438h3v1h-3zM562 438h8v1h-8zM586 438h8v1h-8zM839 438h2v1h-2zM1146 229h2v1h-2zM991 210h1v1h-1zM1049 210h1v1h-1zM34 440h2v1h-2zM207 440h3v1h-3zM401 440h2v1h-2zM554 440h4v1h-4zM598 440h4v1h-4zM835 440h2v1h-2zM12 420h1v1h-1zM875 420h2v1h-2zM13 421h1v1h-1zM873 421h2v1h-2zM1257 338h1v1h-1zM36 441h1v1h-1zM205 441h2v1h-2zM403 441h2v1h-2zM547 441h7v1h-7zM602 441h8v1h-8zM833 441h2v1h-2zM46 447h2v1h-2zM193 447h2v1h-2zM417 447h2v1h-2zM535 447h2v1h-2zM629 447h2v1h-2zM819 447h3v1h-3zM1000 201h1v1h-1zM1041 201h1v1h-1zM1160 238h1v1h-1zM1161 239h1v1h-1zM980 224h1v1h-1zM1091 224h3v1h-3zM1098 224h4v1h-4zM1130 224h11v1h-11zM53 451h1v1h-1zM185 451h2v1h-2zM429 451h2v1h-2zM526 451h3v1h-3zM637 451h1v1h-1zM809 451h2v1h-2zM64 458h1v1h-1zM173 458h2v1h-2zM458 458h4v1h-4zM509 458h2v1h-2zM646 458h2v1h-2zM791 458h3v1h-3zM19 426h1v1h-1zM863 426h2v1h-2zM1251 334h2v1h-2zM985 218h1v1h-1zM1078 218h2v1h-2zM1212 297h1v1h-1zM1253 335h1v1h-1zM83 469h2v1h-2zM143 469h3v1h-3zM663 469h2v1h-2zM774 469h2v1h-2zM30 436h1v1h-1zM219 436h3v1h-3zM322 436h16v1h-16zM390 436h3v1h-3zM842 436h2v1h-2zM1004 198h1v1h-1zM1036 198h1v1h-1zM2 410h1v1h-1zM885 410h1v1h-1zM1157 236h1v1h-1zM14 422h2v1h-2zM871 422h2v1h-2zM1207 294h2v1h-2zM1009 194h2v1h-2zM1031 194h1v1h-1zM1023 190h3v1h-3zM1018 192h3v1h-3zM1029 192h1v1h-1zM695 482h3v1h-3zM753 482h2v1h-2zM1011 193h7v1h-7zM1030 193h1v1h-1zM1232 318h1v1h-1zM1008 195h1v1h-1zM1032 195h1v1h-1zM1203 291h1v1h-1zM57 454h2v1h-2zM181 454h1v1h-1zM438 454h4v1h-4zM519 454h2v1h-2zM641 454h1v1h-1zM802 454h3v1h-3zM1158 237h2v1h-2zM98 476h4v1h-4zM122 476h4v1h-4zM681 476h2v1h-2zM765 476h1v1h-1zM54 452h2v1h-2zM184 452h1v1h-1zM431 452h3v1h-3zM523 452h3v1h-3zM638 452h2v1h-2zM807 452h2v1h-2zM983 220h1v1h-1zM1082 220h3v1h-3zM944 286h1v1h-1zM1055 216h1v1h-1zM1065 216h2v1h-2zM1069 216h2v1h-2zM1074 216h3v1h-3zM1249 333h2v1h-2zM940 293h1v1h-1zM1205 293h2v1h-2zM984 219h1v1h-1zM1080 219h2v1h-2zM1006 196h2v1h-2zM1033 196h1v1h-1zM936 300h1v1h-1zM1215 300h1v1h-1zM887 407h1v1h-1zM995 205h1v1h-1zM1045 205h1v1h-1zM1165 244h1v1h-1zM973 234h1v1h-1zM1153 234h2v1h-2zM8 416h1v1h-1zM879 416h1v1h-1zM1245 330h1v1h-1zM1264 343h1v1h-1zM1265 344h2v1h-2zM1002 199h2v1h-2zM1037 199h2v1h-2zM890 403h1v1h-1zM77 465h1v1h-1zM157 465h2v1h-2zM657 465h1v1h-1zM780 465h1v1h-1zM1051 212h1v1h-1zM978 227h1v1h-1zM1144 227h1v1h-1zM981 223h1v1h-1zM1089 223h2v1h-2zM1102 223h4v1h-4zM1127 223h3v1h-3zM975 231h1v1h-1zM1149 231h1v1h-1zM21 428h1v1h-1zM858 428h3v1h-3zM693 481h2v1h-2zM755 481h2v1h-2zM1258 339h2v1h-2zM1197 284h1v1h-1zM1260 340h1v1h-1zM997 203h1v1h-1zM1043 203h1v1h-1zM1167 246h1v1h-1zM1214 299h1v1h-1zM1236 323h1v1h-1zM1254 336h2v1h-2zM1256 337h1v1h-1zM80 467h1v1h-1zM150 467h4v1h-4zM660 467h1v1h-1zM777 467h1v1h-1zM1184 266h1v1h-1zM1188 272h1v1h-1zM1199 287h1v1h-1zM1210 296h2v1h-2zM1243 329h2v1h-2zM1262 342h2v1h-2zM39 443h2v1h-2zM201 443h2v1h-2zM407 443h3v1h-3zM543 443h2v1h-2zM614 443h7v1h-7zM829 443h2v1h-2zM690 480h3v1h-3zM757 480h2v1h-2zM1238 325h1v1h-1zM1217 302h1v1h-1zM1239 326h1v1h-1zM1142 226h2v1h-2zM1186 269h1v1h-1zM1201 289h1v1h-1zM1202 290h1v1h-1zM687 479h3v1h-3zM759 479h2v1h-2zM993 208h1v1h-1zM1047 208h1v1h-1zM992 209h1v1h-1zM1048 209h1v1h-1zM20 427h1v1h-1zM861 427h2v1h-2zM1248 332h1v1h-1zM1267 345h2v1h-2zM1241 328h2v1h-2zM966 245h1v1h-1zM1166 245h1v1h-1zM1152 233h1v1h-1zM1164 243h1v1h-1zM1204 292h1v1h-1zM1050 211h1v1h-1zM900 388h1v1h-1zM7 415h1v1h-1zM880 415h1v1h-1zM1195 282h1v1h-1zM3 411h1v1h-1zM884 411h1v1h-1zM987 215h1v1h-1zM1054 215h1v1h-1zM1067 215h2v1h-2zM1213 298h1v1h-1zM1235 322h1v1h-1zM1246 331h2v1h-2zM998 202h2v1h-2zM1042 202h1v1h-1zM1219 304h1v1h-1zM1220 305h1v1h-1zM1209 295h1v1h-1zM1145 228h1v1h-1zM4 412h1v1h-1zM883 412h1v1h-1zM22 429h1v1h-1zM855 429h3v1h-3zM1237 324h1v1h-1zM1174 254h2v1h-2zM896 394h1v1h-1zM1222 307h1v1h-1zM989 213h1v1h-1zM1052 213h1v1h-1zM1261 341h1v1h-1zM1168 247h1v1h-1zM0 408h1v1h-1zM1193 279h1v1h-1zM894 397h1v1h-1zM11 419h1v1h-1zM877 419h1v1h-1zM1218 303h1v1h-1zM1240 327h1v1h-1zM976 230h1v1h-1zM1148 230h1v1h-1zM1177 256h1v1h-1zM1224 309h1v1h-1zM1005 197h1v1h-1zM1034 197h2v1h-2zM1172 252h1v1h-1zM1173 253h1v1h-1zM9 417h1v1h-1zM1221 306h1v1h-1zM892 400h1v1h-1zM1192 278h1v1h-1zM960 255h1v1h-1zM1176 255h1v1h-1zM1216 301h1v1h-1zM1231 317h1v1h-1zM898 391h1v1h-1zM1190 275h1v1h-1zM1 409h1v1h-1zM1223 308h1v1h-1zM1171 251h1v1h-1zM1233 319h1v1h-1zM888 406h1v1h-1zM1225 310h1v1h-1zM1196 283h1v1h-1zM10 418h1v1h-1zM1179 259h1v1h-1zM1180 260h1v1h-1zM1227 313h1v1h-1zM1228 314h1v1h-1zM1182 263h1v1h-1z" fill="#0000cd" shape-rendering="crispEdges"/>
<path d="M881 391h1v2h-1zM920 237h1v5h-1zM1163 261h1v2h-1zM925 210h1v5h-1zM1169 277h1v2h-1zM911 281h1v6h-1zM982 198h1v3h-1zM929 191h1v4h-1zM893 356h1v3h-1zM963 162h1v2h-1zM919 242h1v5h-1zM1187 320h1v3h-1zM1193 337h1v3h-1zM877 401h1v3h-1zM6 437h1v2h-1zM923 220h1v6h-1zM910 287h1v5h-1zM928 195h1v4h-1zM915 262h1v5h-1zM900 337h1v3h-1zM931 183h1v4h-1zM1168 274h1v3h-1zM1175 290h1v2h-1zM904 320h1v5h-1zM1246 351h1v2h-1zM909 292h1v6h-1zM884 383h1v3h-1zM927 199h1v5h-1zM1154 245h1v2h-1zM962 160h1v2h-1zM1188 323h1v3h-1zM899 340h1v2h-1zM912 276h1v5h-1zM1192 334h1v3h-1zM22 458h1v2h-1zM921 231h1v6h-1zM908 298h1v5h-1zM926 204h1v6h-1zM890 365h1v4h-1zM913 271h1v5h-1zM975 181h1v2h-1zM976 183h1v3h-1zM887 375h1v3h-1zM1177 294h1v2h-1zM398 448h1v2h-1zM1184 310h1v3h-1zM902 329h1v4h-1zM10 442h1v2h-1zM974 179h1v2h-1zM906 309h1v5h-1zM932 181h1v2h-1zM1251 344h1v2h-1zM981 196h1v2h-1zM1194 340h1v2h-1zM892 359h1v3h-1zM1165 266h1v3h-1zM896 347h1v3h-1zM26 463h1v2h-1zM883 386h1v2h-1zM1150 240h1v2h-1zM954 158h1v2h-1zM1189 326h1v3h-1zM930 187h1v4h-1zM917 252h1v5h-1zM895 350h1v3h-1zM1164 263h1v3h-1zM1170 279h1v3h-1zM14 447h1v2h-1zM394 443h1v2h-1zM964 164h1v2h-1zM907 303h1v6h-1zM766 450h1v2h-1zM876 404h1v2h-1zM1176 292h1v2h-1zM1179 298h1v2h-1zM1183 308h1v2h-1zM880 393h1v3h-1zM918 247h1v5h-1zM905 314h1v6h-1zM1178 296h1v2h-1zM922 226h1v5h-1zM1157 249h1v2h-1zM1160 254h1v2h-1zM886 378h1v2h-1zM916 257h1v5h-1zM898 342h1v3h-1zM924 215h1v5h-1zM885 380h1v3h-1zM889 369h1v3h-1zM897 345h1v2h-1zM1172 284h1v2h-1zM914 267h1v4h-1zM1186 316h1v4h-1zM901 333h1v4h-1zM939 170h1v2h-1zM879 396h1v3h-1zM983 201h1v2h-1zM1181 303h1v2h-1zM938 172h1v2h-1zM1185 313h1v3h-1zM965 166h1v2h-1zM934 178h1v2h-1zM937 174h1v2h-1zM978 188h1v3h-1zM17 451h1v2h-1zM985 205h1v2h-1zM1180 300h1v3h-1zM967 169h1v2h-1zM977 186h1v2h-1zM1196 345h1v2h-1zM19 454h1v2h-1zM1146 235h1v2h-1zM1167 271h1v3h-1zM1249 347h1v2h-1zM1174 288h1v2h-1zM1171 282h1v2h-1zM875 406h1v2h-1zM961 158h1v2h-1zM1191 331h1v3h-1zM762 455h1v2h-1zM1198 348h1v2h-1zM1195 342h1v3h-1zM1159 252h1v2h-1zM1162 258h1v3h-1zM1166 269h1v2h-1zM2 432h1v2h-1zM1173 286h1v2h-1zM138 455h1v2h-1zM1190 329h1v2h-1zM888 372h1v3h-1zM1161 256h1v2h-1zM973 177h1v2h-1zM980 193h1v3h-1zM984 203h1v2h-1zM987 209h1v2h-1zM1182 305h1v3h-1zM410 462h1v2h-1zM891 362h1v3h-1zM878 399h1v2h-1zM903 325h1v4h-1zM882 388h1v3h-1zM873 409h1v2h-1zM894 353h1v3h-1zM986 207h1v2h-1zM406 457h1v2h-1zM972 175h1v2h-1zM979 191h1v2h-1zM18 453h1v1h-1zM140 453h1v1h-1zM402 453h1v1h-1zM482 453h3v1h-3zM602 453h7v1h-7zM764 453h1v1h-1zM1129 232h2v1h-2zM1137 232h2v1h-2zM1141 232h2v1h-2zM1012 221h1v1h-1zM1034 221h3v1h-3zM1082 221h1v1h-1zM1110 221h1v1h-1zM1114 221h2v1h-2zM67 486h15v1h-15zM658 486h1v1h-1zM720 486h1v1h-1zM38 475h3v1h-3zM111 475h2v1h-2zM430 475h4v1h-4zM449 475h2v1h-2zM644 475h1v1h-1zM741 475h1v1h-1zM1212 362h1v1h-1zM1230 362h3v1h-3zM43 477h2v1h-2zM107 477h2v1h-2zM646 477h1v1h-1zM738 477h2v1h-2zM151 448h3v1h-3zM495 448h2v1h-2zM596 448h1v1h-1zM768 448h1v1h-1zM202 428h4v1h-4zM243 428h2v1h-2zM350 428h4v1h-4zM363 428h2v1h-2zM546 428h4v1h-4zM848 428h1v1h-1zM41 476h2v1h-2zM109 476h2v1h-2zM434 476h15v1h-15zM645 476h1v1h-1zM740 476h1v1h-1zM215 424h3v1h-3zM226 424h4v1h-4zM234 424h3v1h-3zM855 424h2v1h-2zM1 431h1v1h-1zM186 431h4v1h-4zM249 431h1v1h-1zM338 431h4v1h-4zM374 431h4v1h-4zM534 431h4v1h-4zM562 431h3v1h-3zM794 431h4v1h-4zM814 431h3v1h-3zM844 431h1v1h-1zM171 438h2v1h-2zM258 438h3v1h-3zM306 438h2v1h-2zM388 438h1v1h-1zM512 438h1v1h-1zM579 438h2v1h-2zM780 438h1v1h-1zM141 452h2v1h-2zM401 452h1v1h-1zM485 452h2v1h-2zM600 452h2v1h-2zM765 452h1v1h-1zM173 437h2v1h-2zM256 437h2v1h-2zM308 437h1v1h-1zM387 437h1v1h-1zM513 437h2v1h-2zM577 437h2v1h-2zM781 437h1v1h-1zM182 433h2v1h-2zM251 433h1v1h-1zM318 433h4v1h-4zM330 433h4v1h-4zM381 433h2v1h-2zM526 433h4v1h-4zM567 433h3v1h-3zM789 433h2v1h-2zM819 433h3v1h-3zM841 433h1v1h-1zM143 451h3v1h-3zM400 451h1v1h-1zM487 451h3v1h-3zM599 451h1v1h-1zM36 474h2v1h-2zM113 474h1v1h-1zM426 474h4v1h-4zM451 474h2v1h-2zM642 474h2v1h-2zM742 474h2v1h-2zM0 430h1v1h-1zM190 430h8v1h-8zM247 430h2v1h-2zM342 430h4v1h-4zM367 430h7v1h-7zM538 430h4v1h-4zM554 430h8v1h-8zM798 430h16v1h-16zM845 430h1v1h-1zM991 213h2v1h-2zM58 483h4v1h-4zM94 483h3v1h-3zM654 483h2v1h-2zM729 483h1v1h-1zM673 496h2v1h-2zM699 496h3v1h-3zM28 466h1v1h-1zM124 466h1v1h-1zM413 466h1v1h-1zM465 466h1v1h-1zM633 466h1v1h-1zM752 466h1v1h-1zM213 425h2v1h-2zM218 425h8v1h-8zM237 425h2v1h-2zM853 425h2v1h-2zM665 492h1v1h-1zM710 492h3v1h-3zM23 460h1v1h-1zM133 460h1v1h-1zM408 460h1v1h-1zM473 460h1v1h-1zM623 460h2v1h-2zM758 460h1v1h-1zM993 214h2v1h-2zM1011 220h1v1h-1zM1037 220h1v1h-1zM1081 220h1v1h-1zM1111 220h1v1h-1zM1113 220h1v1h-1zM1151 242h1v1h-1zM21 457h1v1h-1zM137 457h1v1h-1zM476 457h1v1h-1zM615 457h3v1h-3zM761 457h1v1h-1zM1091 227h2v1h-2zM1101 227h2v1h-2zM1121 227h1v1h-1zM1152 243h1v1h-1zM1259 339h7v1h-7zM9 441h1v1h-1zM166 441h2v1h-2zM274 441h3v1h-3zM301 441h2v1h-2zM392 441h1v1h-1zM507 441h2v1h-2zM585 441h2v1h-2zM777 441h1v1h-1zM30 468h1v1h-1zM121 468h1v1h-1zM415 468h1v1h-1zM462 468h2v1h-2zM636 468h1v1h-1zM749 468h1v1h-1zM1018 224h4v1h-4zM1026 224h3v1h-3zM1085 224h2v1h-2zM1106 224h2v1h-2zM1118 224h1v1h-1zM165 442h1v1h-1zM277 442h2v1h-2zM299 442h2v1h-2zM393 442h1v1h-1zM505 442h2v1h-2zM587 442h2v1h-2zM776 442h1v1h-1zM24 461h1v1h-1zM132 461h1v1h-1zM409 461h1v1h-1zM472 461h1v1h-1zM625 461h1v1h-1zM757 461h1v1h-1zM682 499h12v1h-12zM5 436h1v1h-1zM175 436h3v1h-3zM254 436h2v1h-2zM309 436h2v1h-2zM386 436h1v1h-1zM515 436h3v1h-3zM575 436h2v1h-2zM782 436h2v1h-2zM834 436h3v1h-3zM230 423h4v1h-4zM857 423h1v1h-1zM206 427h4v1h-4zM241 427h2v1h-2zM354 427h4v1h-4zM361 427h2v1h-2zM849 427h2v1h-2zM675 497h3v1h-3zM697 497h2v1h-2zM1218 367h4v1h-4zM49 480h2v1h-2zM101 480h2v1h-2zM649 480h2v1h-2zM733 480h2v1h-2zM1002 217h7v1h-7zM1042 217h4v1h-4zM1062 217h4v1h-4zM1078 217h1v1h-1zM3 434h1v1h-1zM181 434h1v1h-1zM252 434h1v1h-1zM314 434h4v1h-4zM322 434h8v1h-8zM383 434h2v1h-2zM522 434h4v1h-4zM570 434h3v1h-3zM786 434h3v1h-3zM822 434h4v1h-4zM839 434h2v1h-2zM1093 228h2v1h-2zM1098 228h3v1h-3zM1122 228h2v1h-2zM32 470h1v1h-1zM118 470h2v1h-2zM417 470h2v1h-2zM459 470h2v1h-2zM638 470h1v1h-1zM747 470h1v1h-1zM661 489h1v1h-1zM716 489h1v1h-1zM868 415h1v1h-1zM995 215h3v1h-3zM1074 215h3v1h-3zM184 432h2v1h-2zM250 432h1v1h-1zM334 432h4v1h-4zM378 432h3v1h-3zM530 432h4v1h-4zM565 432h2v1h-2zM791 432h3v1h-3zM817 432h2v1h-2zM842 432h2v1h-2zM1253 342h2v1h-2zM4 435h1v1h-1zM178 435h3v1h-3zM253 435h1v1h-1zM311 435h3v1h-3zM385 435h1v1h-1zM518 435h4v1h-4zM573 435h2v1h-2zM784 435h2v1h-2zM826 435h8v1h-8zM837 435h2v1h-2zM1203 354h1v1h-1zM1244 354h1v1h-1zM136 458h1v1h-1zM475 458h1v1h-1zM618 458h3v1h-3zM760 458h1v1h-1zM12 445h1v1h-1zM161 445h1v1h-1zM287 445h3v1h-3zM395 445h1v1h-1zM500 445h1v1h-1zM592 445h1v1h-1zM772 445h1v1h-1zM35 473h1v1h-1zM114 473h2v1h-2zM423 473h3v1h-3zM453 473h2v1h-2zM641 473h1v1h-1zM744 473h1v1h-1zM13 446h1v1h-1zM158 446h3v1h-3zM396 446h1v1h-1zM498 446h2v1h-2zM593 446h1v1h-1zM770 446h2v1h-2zM62 484h3v1h-3zM86 484h8v1h-8zM656 484h1v1h-1zM723 484h6v1h-6zM11 444h1v1h-1zM162 444h2v1h-2zM285 444h2v1h-2zM290 444h7v1h-7zM501 444h2v1h-2zM590 444h2v1h-2zM773 444h1v1h-1zM1206 357h2v1h-2zM1241 357h1v1h-1zM404 455h1v1h-1zM478 455h2v1h-2zM611 455h2v1h-2zM955 157h1v1h-1zM958 157h3v1h-3zM127 464h2v1h-2zM411 464h1v1h-1zM468 464h1v1h-1zM629 464h2v1h-2zM754 464h1v1h-1zM154 447h4v1h-4zM397 447h1v1h-1zM497 447h1v1h-1zM594 447h2v1h-2zM769 447h1v1h-1zM7 439h1v1h-1zM169 439h2v1h-2zM261 439h2v1h-2zM305 439h1v1h-1zM389 439h1v1h-1zM510 439h2v1h-2zM581 439h2v1h-2zM779 439h1v1h-1zM8 440h1v1h-1zM168 440h1v1h-1zM263 440h11v1h-11zM303 440h2v1h-2zM390 440h2v1h-2zM509 440h1v1h-1zM583 440h2v1h-2zM778 440h1v1h-1zM1210 360h1v1h-1zM1234 360h2v1h-2zM670 495h3v1h-3zM702 495h3v1h-3zM1211 361h1v1h-1zM1233 361h1v1h-1zM198 429h4v1h-4zM245 429h2v1h-2zM346 429h4v1h-4zM365 429h2v1h-2zM542 429h4v1h-4zM550 429h4v1h-4zM846 429h2v1h-2zM956 156h2v1h-2zM998 216h4v1h-4zM1046 216h16v1h-16zM1066 216h8v1h-8zM1077 216h1v1h-1zM1015 223h3v1h-3zM1022 223h4v1h-4zM1029 223h2v1h-2zM1084 223h1v1h-1zM1108 223h1v1h-1zM1117 223h1v1h-1zM1213 363h1v1h-1zM1228 363h2v1h-2zM54 482h4v1h-4zM97 482h2v1h-2zM653 482h1v1h-1zM730 482h2v1h-2zM1205 356h1v1h-1zM1242 356h1v1h-1zM1216 366h2v1h-2zM1222 366h3v1h-3zM33 471h1v1h-1zM117 471h1v1h-1zM419 471h2v1h-2zM457 471h2v1h-2zM639 471h1v1h-1zM746 471h1v1h-1zM1155 247h1v1h-1zM1156 248h1v1h-1zM164 443h1v1h-1zM279 443h6v1h-6zM297 443h2v1h-2zM503 443h2v1h-2zM589 443h1v1h-1zM774 443h2v1h-2zM861 420h1v1h-1zM940 169h2v1h-2zM936 176h1v1h-1zM865 417h1v1h-1zM662 490h2v1h-2zM714 490h2v1h-2zM65 485h2v1h-2zM82 485h4v1h-4zM657 485h1v1h-1zM721 485h2v1h-2zM34 472h1v1h-1zM116 472h1v1h-1zM421 472h2v1h-2zM455 472h2v1h-2zM640 472h1v1h-1zM745 472h1v1h-1zM947 165h1v1h-1zM51 481h3v1h-3zM99 481h2v1h-2zM651 481h2v1h-2zM732 481h1v1h-1zM1202 353h1v1h-1zM1245 353h1v1h-1zM45 478h2v1h-2zM105 478h2v1h-2zM647 478h1v1h-1zM737 478h1v1h-1zM1095 229h3v1h-3zM1124 229h1v1h-1zM1089 226h2v1h-2zM1103 226h2v1h-2zM1120 226h1v1h-1zM871 412h1v1h-1zM1131 233h6v1h-6zM1143 233h2v1h-2zM1013 222h2v1h-2zM1031 222h3v1h-3zM1083 222h1v1h-1zM1109 222h1v1h-1zM1116 222h1v1h-1zM1257 340h2v1h-2zM1266 340h3v1h-3zM134 459h2v1h-2zM407 459h1v1h-1zM474 459h1v1h-1zM621 459h2v1h-2zM759 459h1v1h-1zM659 487h1v1h-1zM718 487h2v1h-2zM858 422h2v1h-2zM25 462h1v1h-1zM130 462h2v1h-2zM470 462h2v1h-2zM626 462h2v1h-2zM756 462h1v1h-1zM1010 219h1v1h-1zM1038 219h2v1h-2zM1080 219h1v1h-1zM1112 219h1v1h-1zM1209 359h1v1h-1zM1236 359h2v1h-2zM1199 350h1v1h-1zM1247 350h1v1h-1zM1208 358h1v1h-1zM1238 358h3v1h-3zM988 211h1v1h-1zM668 494h2v1h-2zM705 494h2v1h-2zM1087 225h2v1h-2zM1105 225h1v1h-1zM1119 225h1v1h-1zM210 426h3v1h-3zM239 426h2v1h-2zM358 426h3v1h-3zM851 426h2v1h-2zM27 465h1v1h-1zM125 465h2v1h-2zM412 465h1v1h-1zM466 465h2v1h-2zM631 465h2v1h-2zM753 465h1v1h-1zM864 418h1v1h-1zM15 449h1v1h-1zM149 449h2v1h-2zM493 449h2v1h-2zM597 449h1v1h-1zM767 449h1v1h-1zM16 450h1v1h-1zM146 450h3v1h-3zM399 450h1v1h-1zM490 450h3v1h-3zM598 450h1v1h-1zM1215 365h1v1h-1zM1225 365h1v1h-1zM1204 355h1v1h-1zM1243 355h1v1h-1zM1214 364h1v1h-1zM1226 364h2v1h-2zM47 479h2v1h-2zM103 479h2v1h-2zM648 479h1v1h-1zM735 479h2v1h-2zM29 467h1v1h-1zM122 467h2v1h-2zM414 467h1v1h-1zM464 467h1v1h-1zM634 467h2v1h-2zM750 467h2v1h-2zM666 493h2v1h-2zM707 493h3v1h-3zM31 469h1v1h-1zM120 469h1v1h-1zM416 469h1v1h-1zM461 469h1v1h-1zM637 469h1v1h-1zM748 469h1v1h-1zM139 454h1v1h-1zM403 454h1v1h-1zM480 454h2v1h-2zM609 454h2v1h-2zM763 454h1v1h-1zM129 463h1v1h-1zM469 463h1v1h-1zM628 463h1v1h-1zM755 463h1v1h-1zM20 456h1v1h-1zM405 456h1v1h-1zM477 456h1v1h-1zM613 456h2v1h-2zM948 164h1v1h-1zM872 411h1v1h-1zM869 414h1v1h-1zM1158 251h1v1h-1zM1127 231h2v1h-2zM1139 231h2v1h-2zM862 419h2v1h-2zM1125 230h2v1h-2zM678 498h4v1h-4zM694 498h3v1h-3zM1250 346h1v1h-1zM942 168h3v1h-3zM966 168h1v1h-1zM660 488h1v1h-1zM717 488h1v1h-1zM1009 218h1v1h-1zM1040 218h2v1h-2zM1079 218h1v1h-1zM968 171h1v1h-1zM969 172h1v1h-1zM933 180h1v1h-1zM1248 349h1v1h-1zM945 167h1v1h-1zM952 161h1v1h-1zM971 174h1v1h-1zM860 421h1v1h-1zM1148 238h1v1h-1zM1149 239h1v1h-1zM1255 341h2v1h-2zM866 416h2v1h-2zM953 160h1v1h-1zM989 212h2v1h-2zM1197 347h1v1h-1zM970 173h1v1h-1zM946 166h1v1h-1zM1153 244h1v1h-1zM870 413h1v1h-1zM1252 343h1v1h-1zM950 162h2v1h-2zM1145 234h1v1h-1zM1200 351h1v1h-1zM1201 352h1v1h-1zM1147 237h1v1h-1zM935 177h1v1h-1zM664 491h1v1h-1zM713 491h1v1h-1zM874 408h1v1h-1zM949 163h1v1h-1z" fill="#ff0000" shape-rendering="crispEdges"/>
<path d="M944 180h1v7h-1zM1118 219h1v2h-1zM249 444h1v2h-1zM1087 230h1v2h-1zM883 350h1v5h-1zM985 220h1v2h-1zM639 485h1v2h-1zM882 355h1v4h-1zM1176 344h1v5h-1zM1088 232h1v2h-1zM851 404h1v2h-1zM919 128h1v6h-1zM938 140h1v5h-1zM887 326h1v6h-1zM892 289h1v6h-1zM5 469h1v2h-1zM896 268h1v4h-1zM1151 263h1v4h-1zM139 440h1v2h-1zM1102 228h1v3h-1zM1053 224h1v2h-1zM1200 385h1v2h-1zM1259 327h1v2h-1zM166 436h1v2h-1zM135 447h1v2h-1zM1196 393h1v2h-1zM1161 290h1v3h-1zM901 250h1v6h-1zM99 467h1v2h-1zM669 503h1v2h-1zM905 221h1v9h-1zM909 189h1v6h-1zM881 359h1v5h-1zM914 158h1v6h-1zM1178 354h1v5h-1zM1003 239h1v2h-1zM947 195h1v4h-1zM904 230h1v8h-1zM891 295h1v8h-1zM1266 326h1v2h-1zM950 206h1v2h-1zM941 156h1v8h-1zM885 338h1v6h-1zM271 447h1v2h-1zM1101 231h1v2h-1zM1174 336h1v4h-1zM842 421h1v3h-1zM726 474h1v2h-1zM1086 228h1v2h-1zM1097 238h1v2h-1zM937 135h1v5h-1zM157 438h1v2h-1zM984 217h1v3h-1zM638 482h1v3h-1zM718 483h1v2h-1zM908 195h1v8h-1zM1167 310h1v4h-1zM1250 343h1v2h-1zM274 442h1v2h-1zM890 303h1v8h-1zM917 140h1v6h-1zM1150 260h1v3h-1zM903 238h1v6h-1zM942 164h1v8h-1zM1156 277h1v3h-1zM907 203h1v9h-1zM894 278h1v5h-1zM729 470h1v2h-1zM933 118h1v4h-1zM973 192h1v3h-1zM270 449h1v2h-1zM936 130h1v5h-1zM884 344h1v6h-1zM243 431h1v2h-1zM976 202h1v2h-1zM630 469h1v2h-1zM244 433h1v2h-1zM980 209h1v2h-1zM1021 210h1v2h-1zM1093 234h1v2h-1zM251 449h1v2h-1zM1177 349h1v5h-1zM1138 242h1v2h-1zM1040 201h1v2h-1zM1070 223h1v2h-1zM946 191h1v4h-1zM1260 325h1v2h-1zM1105 221h1v2h-1zM912 170h1v6h-1zM902 244h1v6h-1zM953 209h1v2h-1zM1173 332h1v4h-1zM269 451h1v2h-1zM839 429h1v2h-1zM159 441h1v2h-1zM888 319h1v7h-1zM1020 212h1v2h-1zM1148 253h1v3h-1zM1145 247h1v2h-1zM1166 306h1v4h-1zM462 455h1v2h-1zM1179 359h1v5h-1zM879 369h1v5h-1zM1186 378h1v2h-1zM952 211h1v2h-1zM972 190h1v2h-1zM932 115h1v3h-1zM1183 372h1v2h-1zM242 429h1v2h-1zM1081 217h1v2h-1zM1084 223h1v3h-1zM1256 334h1v2h-1zM838 431h1v2h-1zM1119 221h1v3h-1zM1213 350h1v2h-1zM1125 236h1v2h-1zM846 412h1v2h-1zM992 237h1v2h-1zM1050 219h1v2h-1zM906 212h1v9h-1zM910 182h1v7h-1zM915 152h1v6h-1zM370 437h1v2h-1zM1255 336h1v2h-1zM1146 249h1v2h-1zM395 466h1v2h-1zM374 443h1v2h-1zM1147 251h1v2h-1zM1204 376h1v3h-1zM918 134h1v6h-1zM1212 352h1v3h-1zM1042 205h1v2h-1zM845 414h1v2h-1zM1184 374h1v2h-1zM895 272h1v6h-1zM1185 376h1v2h-1zM951 208h1v3h-1zM1082 219h1v2h-1zM362 423h1v2h-1zM877 380h1v5h-1zM266 455h1v2h-1zM363 425h1v2h-1zM962 194h1v3h-1zM641 489h1v2h-1zM1203 379h1v2h-1zM1001 243h1v2h-1zM1127 240h1v2h-1zM7 473h1v2h-1zM880 364h1v5h-1zM514 427h1v2h-1zM1066 228h1v2h-1zM991 235h1v2h-1zM1153 270h1v2h-1zM586 451h1v2h-1zM1170 321h1v4h-1zM1052 222h1v2h-1zM922 113h1v4h-1zM943 172h1v8h-1zM626 464h1v2h-1zM1157 280h1v2h-1zM1195 392h1v2h-1zM1163 296h1v3h-1zM961 197h1v2h-1zM1108 215h1v2h-1zM898 263h1v3h-1zM373 441h1v2h-1zM956 203h1v2h-1zM997 240h1v2h-1zM1017 218h1v2h-1zM1044 209h1v2h-1zM1104 223h1v3h-1zM889 311h1v8h-1zM86 481h1v2h-1zM361 421h1v2h-1zM1074 213h1v4h-1zM1206 369h1v4h-1zM986 222h1v3h-1zM1005 235h1v2h-1zM939 145h1v5h-1zM640 487h1v2h-1zM875 389h1v2h-1zM6 471h1v2h-1zM1016 220h1v2h-1zM1103 226h1v2h-1zM1152 267h1v3h-1zM911 176h1v6h-1zM1077 209h1v2h-1zM1158 282h1v3h-1zM246 437h1v2h-1zM920 122h1v6h-1zM1095 238h1v2h-1zM1004 237h1v2h-1zM378 449h1v2h-1zM874 391h1v3h-1zM650 504h1v2h-1zM999 243h1v2h-1zM272 445h1v2h-1zM924 105h1v3h-1zM873 394h1v2h-1zM930 111h1v2h-1zM886 332h1v6h-1zM923 108h1v5h-1zM434 474h1v2h-1zM934 122h1v4h-1zM1188 382h1v2h-1zM841 424h1v3h-1zM977 204h1v2h-1zM245 435h1v2h-1zM1083 221h1v2h-1zM1120 224h1v3h-1zM255 456h1v2h-1zM987 225h1v2h-1zM940 150h1v6h-1zM1199 387h1v2h-1zM840 427h1v2h-1zM1149 256h1v4h-1zM1180 364h1v4h-1zM1198 389h1v2h-1zM916 146h1v6h-1zM1008 229h1v2h-1zM1187 380h1v2h-1zM982 213h1v2h-1zM921 117h1v5h-1zM893 283h1v6h-1zM979 207h1v2h-1zM364 427h1v2h-1zM633 473h1v2h-1zM253 453h1v2h-1zM847 410h1v2h-1zM897 266h1v2h-1zM1126 238h1v2h-1zM1169 317h1v4h-1zM878 374h1v6h-1zM935 126h1v4h-1zM1073 217h1v3h-1zM1205 373h1v3h-1zM375 445h1v2h-1zM948 199h1v4h-1zM58 487h1v2h-1zM1209 360h1v3h-1zM1023 207h1v2h-1zM635 476h1v2h-1zM1175 340h1v4h-1zM900 256h1v5h-1zM1019 214h1v2h-1zM642 491h1v2h-1zM1168 314h1v3h-1zM138 442h1v2h-1zM1181 368h1v2h-1zM1076 208h1v2h-1zM1079 213h1v2h-1zM1160 287h1v3h-1zM1216 344h1v2h-1zM837 433h1v2h-1zM1018 216h1v2h-1zM849 407h1v2h-1zM399 472h1v2h-1zM1041 203h1v2h-1zM137 444h1v2h-1zM133 450h1v2h-1zM1215 346h1v2h-1zM98 469h1v2h-1zM1130 244h1v2h-1zM929 109h1v2h-1zM844 416h1v2h-1zM1054 226h1v3h-1zM1078 211h1v2h-1zM1100 233h1v2h-1zM1085 226h1v2h-1zM1122 229h1v3h-1zM945 187h1v4h-1zM989 230h1v2h-1zM97 471h1v2h-1zM1043 207h1v2h-1zM843 418h1v3h-1zM1172 329h1v3h-1zM1193 388h1v2h-1zM1099 235h1v2h-1zM1165 302h1v4h-1zM1107 217h1v2h-1zM955 205h1v2h-1zM931 113h1v2h-1zM974 195h1v4h-1zM746 452h1v2h-1zM1117 216h1v3h-1zM248 441h1v3h-1zM981 211h1v2h-1zM426 483h1v2h-1zM1121 227h1v2h-1zM252 451h1v2h-1zM988 227h1v3h-1zM1106 219h1v2h-1zM954 207h1v2h-1zM1171 325h1v4h-1zM1258 329h1v3h-1zM876 385h1v4h-1zM1164 299h1v3h-1zM913 164h1v6h-1zM949 203h1v3h-1zM1257 332h1v2h-1zM671 500h1v2h-1zM247 439h1v2h-1zM365 429h1v2h-1zM637 480h1v2h-1zM1253 339h1v2h-1zM390 459h1v2h-1zM1142 242h1v2h-1zM1214 348h1v2h-1zM644 495h1v2h-1zM1155 275h1v2h-1zM964 190h1v2h-1zM975 199h1v3h-1zM1159 285h1v2h-1zM731 467h1v2h-1zM1046 213h1v2h-1zM550 432h1v2h-1zM963 192h1v2h-1zM367 433h1v2h-1zM1072 220h1v2h-1zM1144 245h1v2h-1zM393 463h1v2h-1zM643 493h1v2h-1zM1182 370h1v2h-1zM1154 272h1v3h-1zM1056 231h1v2h-1zM241 427h1v2h-1zM1208 363h1v3h-1zM1007 231h1v2h-1zM766 432h1v2h-1zM1124 234h1v2h-1zM1 463h1v2h-1zM1045 211h1v2h-1zM1075 210h1v3h-1zM1207 366h1v3h-1zM1006 233h1v2h-1zM1211 355h1v3h-1zM250 446h1v3h-1zM1116 214h1v2h-1zM983 215h1v2h-1zM1123 232h1v2h-1zM3 466h1v2h-1zM990 232h1v3h-1zM1202 381h1v2h-1zM338 428h1v2h-1zM1194 390h1v2h-1zM1162 293h1v3h-1zM960 199h1v2h-1zM1201 383h1v2h-1zM636 478h1v2h-1zM1094 236h1v2h-1zM899 261h1v2h-1zM366 431h1v2h-1zM1002 241h1v2h-1zM645 497h1v2h-1zM872 396h1v2h-1zM1055 229h1v2h-1zM1047 215h1v2h-1zM1210 358h1v2h-1zM397 469h1v2h-1zM647 500h1v2h-1zM1080 215h1v2h-1zM1197 391h1v2h-1zM131 452h2v1h-2zM380 452h1v1h-1zM465 452h1v1h-1zM146 437h4v1h-4zM154 437h3v1h-3zM280 437h1v1h-1zM327 437h2v1h-2zM504 437h1v1h-1zM557 437h2v1h-2zM762 437h1v1h-1zM810 437h3v1h-3zM834 437h1v1h-1zM150 436h4v1h-4zM281 436h1v1h-1zM325 436h2v1h-2zM329 436h2v1h-2zM369 436h1v1h-1zM505 436h1v1h-1zM554 436h3v1h-3zM763 436h1v1h-1zM804 436h6v1h-6zM835 436h1v1h-1zM81 487h1v1h-1zM687 487h2v1h-2zM715 487h1v1h-1zM100 466h1v1h-1zM442 466h1v1h-1zM447 466h2v1h-2zM602 466h4v1h-4zM627 466h1v1h-1zM732 466h1v1h-1zM377 448h1v1h-1zM470 448h2v1h-2zM581 448h2v1h-2zM750 448h2v1h-2zM1000 245h1v1h-1zM1135 245h2v1h-2zM161 442h1v1h-1zM478 442h2v1h-2zM482 442h4v1h-4zM490 442h7v1h-7zM574 442h1v1h-1zM757 442h1v1h-1zM823 442h3v1h-3zM654 509h2v1h-2zM661 509h2v1h-2zM179 425h1v1h-1zM186 425h2v1h-2zM190 425h3v1h-3zM204 425h10v1h-10zM222 425h3v1h-3zM238 425h2v1h-2zM341 425h1v1h-1zM516 425h14v1h-14zM775 425h2v1h-2zM787 425h2v1h-2zM171 431h1v1h-1zM298 431h3v1h-3zM310 431h3v1h-3zM336 431h1v1h-1zM511 431h1v1h-1zM549 431h1v1h-1zM767 431h1v1h-1zM798 431h1v1h-1zM169 433h1v1h-1zM284 433h6v1h-6zM293 433h2v1h-2zM303 433h3v1h-3zM315 433h3v1h-3zM334 433h1v1h-1zM509 433h1v1h-1zM800 433h1v1h-1zM1240 349h5v1h-5zM965 190h7v1h-7zM229 421h2v1h-2zM233 421h1v1h-1zM345 421h1v1h-1zM60 490h1v1h-1zM74 490h2v1h-2zM681 490h2v1h-2zM692 490h21v1h-21zM175 428h2v1h-2zM535 428h3v1h-3zM545 428h1v1h-1zM770 428h2v1h-2zM793 428h2v1h-2zM468 450h1v1h-1zM585 450h1v1h-1zM748 450h1v1h-1zM178 426h1v1h-1zM188 426h2v1h-2zM214 426h8v1h-8zM240 426h1v1h-1zM340 426h1v1h-1zM515 426h1v1h-1zM530 426h3v1h-3zM773 426h2v1h-2zM789 426h2v1h-2zM170 432h1v1h-1zM295 432h3v1h-3zM301 432h2v1h-2zM306 432h4v1h-4zM313 432h2v1h-2zM335 432h1v1h-1zM510 432h1v1h-1zM799 432h1v1h-1zM2 465h1v1h-1zM101 465h1v1h-1zM394 465h1v1h-1zM443 465h1v1h-1zM445 465h2v1h-2zM449 465h2v1h-2zM600 465h2v1h-2zM606 465h4v1h-4zM733 465h1v1h-1zM1251 342h1v1h-1zM94 474h2v1h-2zM400 474h1v1h-1zM162 441h1v1h-1zM275 441h1v1h-1zM480 441h2v1h-2zM486 441h4v1h-4zM497 441h2v1h-2zM564 441h6v1h-6zM573 441h1v1h-1zM758 441h1v1h-1zM821 441h2v1h-2zM826 441h3v1h-3zM10 476h3v1h-3zM92 476h1v1h-1zM403 476h2v1h-2zM433 476h1v1h-1zM725 476h1v1h-1zM78 488h3v1h-3zM685 488h2v1h-2zM689 488h1v1h-1zM714 488h1v1h-1zM173 429h2v1h-2zM513 429h1v1h-1zM546 429h2v1h-2zM769 429h1v1h-1zM795 429h2v1h-2zM653 508h1v1h-1zM663 508h2v1h-2zM869 398h2v1h-2zM158 440h1v1h-1zM163 440h1v1h-1zM276 440h1v1h-1zM372 440h1v1h-1zM499 440h2v1h-2zM562 440h2v1h-2zM570 440h3v1h-3zM759 440h1v1h-1zM818 440h3v1h-3zM829 440h2v1h-2zM134 449h1v1h-1zM469 449h1v1h-1zM583 449h2v1h-2zM749 449h1v1h-1zM646 499h1v1h-1zM672 499h1v1h-1zM273 444h1v1h-1zM476 444h1v1h-1zM576 444h1v1h-1zM755 444h1v1h-1zM32 482h2v1h-2zM37 482h2v1h-2zM51 482h2v1h-2zM411 482h1v1h-1zM427 482h1v1h-1zM719 482h1v1h-1zM0 462h1v1h-1zM106 462h3v1h-3zM392 462h1v1h-1zM455 462h2v1h-2zM597 462h1v1h-1zM615 462h2v1h-2zM623 462h2v1h-2zM736 462h1v1h-1zM857 400h2v1h-2zM862 400h4v1h-4zM1217 344h9v1h-9zM167 435h1v1h-1zM282 435h1v1h-1zM322 435h3v1h-3zM331 435h2v1h-2zM368 435h1v1h-1zM506 435h2v1h-2zM552 435h2v1h-2zM764 435h1v1h-1zM802 435h2v1h-2zM836 435h1v1h-1zM59 489h1v1h-1zM76 489h2v1h-2zM683 489h2v1h-2zM690 489h2v1h-2zM713 489h1v1h-1zM142 438h4v1h-4zM165 438h1v1h-1zM278 438h2v1h-2zM502 438h2v1h-2zM559 438h2v1h-2zM761 438h1v1h-1zM813 438h2v1h-2zM833 438h1v1h-1zM182 423h3v1h-3zM194 423h2v1h-2zM201 423h1v1h-1zM226 423h2v1h-2zM236 423h1v1h-1zM343 423h1v1h-1zM779 423h6v1h-6zM109 461h2v1h-2zM391 461h1v1h-1zM457 461h1v1h-1zM596 461h1v1h-1zM617 461h2v1h-2zM621 461h2v1h-2zM737 461h1v1h-1zM994 239h3v1h-3zM64 493h1v1h-1zM70 493h2v1h-2zM678 493h1v1h-1zM62 492h2v1h-2zM72 492h1v1h-1zM679 492h1v1h-1zM121 458h2v1h-2zM256 458h1v1h-1zM263 458h2v1h-2zM389 458h1v1h-1zM460 458h1v1h-1zM593 458h1v1h-1zM741 458h1v1h-1zM126 455h2v1h-2zM254 455h1v1h-1zM385 455h1v1h-1zM589 455h1v1h-1zM744 455h1v1h-1zM56 485h1v1h-1zM83 485h1v1h-1zM415 485h3v1h-3zM425 485h1v1h-1zM717 485h1v1h-1zM1025 207h2v1h-2zM1033 207h1v1h-1zM140 439h2v1h-2zM164 439h1v1h-1zM277 439h1v1h-1zM371 439h1v1h-1zM501 439h1v1h-1zM561 439h1v1h-1zM760 439h1v1h-1zM815 439h3v1h-3zM831 439h2v1h-2zM347 419h1v1h-1zM358 419h2v1h-2zM8 475h2v1h-2zM93 475h1v1h-1zM401 475h2v1h-2zM634 475h1v1h-1zM1096 240h1v1h-1zM1140 240h1v1h-1zM128 454h1v1h-1zM267 454h1v1h-1zM383 454h2v1h-2zM463 454h1v1h-1zM588 454h1v1h-1zM745 454h1v1h-1zM957 202h1v1h-1zM1038 202h2v1h-2zM1268 329h1v1h-1zM436 472h1v1h-1zM632 472h1v1h-1zM728 472h1v1h-1zM15 478h6v1h-6zM44 478h1v1h-1zM89 478h1v1h-1zM406 478h2v1h-2zM431 478h1v1h-1zM723 478h1v1h-1zM1137 244h1v1h-1zM1143 244h1v1h-1zM196 422h5v1h-5zM228 422h1v1h-1zM234 422h2v1h-2zM344 422h1v1h-1zM231 420h2v1h-2zM346 420h1v1h-1zM360 420h1v1h-1zM350 417h7v1h-7zM850 406h1v1h-1zM673 498h1v1h-1zM160 443h1v1h-1zM477 443h1v1h-1zM575 443h1v1h-1zM756 443h1v1h-1zM104 463h2v1h-2zM453 463h2v1h-2zM598 463h1v1h-1zM613 463h2v1h-2zM625 463h1v1h-1zM735 463h1v1h-1zM668 505h1v1h-1zM168 434h1v1h-1zM283 434h1v1h-1zM290 434h3v1h-3zM318 434h4v1h-4zM333 434h1v1h-1zM508 434h1v1h-1zM551 434h1v1h-1zM765 434h1v1h-1zM801 434h1v1h-1zM853 402h2v1h-2zM4 468h1v1h-1zM396 468h1v1h-1zM440 468h1v1h-1zM629 468h1v1h-1zM172 430h1v1h-1zM337 430h1v1h-1zM512 430h1v1h-1zM548 430h1v1h-1zM768 430h1v1h-1zM797 430h1v1h-1zM118 459h3v1h-3zM257 459h2v1h-2zM261 459h2v1h-2zM459 459h1v1h-1zM594 459h1v1h-1zM740 459h1v1h-1zM24 481h1v1h-1zM30 481h2v1h-2zM39 481h2v1h-2zM49 481h2v1h-2zM410 481h1v1h-1zM428 481h1v1h-1zM720 481h1v1h-1zM474 445h2v1h-2zM577 445h1v1h-1zM754 445h1v1h-1zM177 427h1v1h-1zM339 427h1v1h-1zM533 427h2v1h-2zM538 427h7v1h-7zM772 427h1v1h-1zM791 427h2v1h-2zM1109 214h1v1h-1zM21 479h1v1h-1zM27 479h2v1h-2zM42 479h2v1h-2zM45 479h2v1h-2zM88 479h1v1h-1zM408 479h1v1h-1zM430 479h1v1h-1zM722 479h1v1h-1zM13 477h2v1h-2zM90 477h2v1h-2zM405 477h1v1h-1zM432 477h1v1h-1zM724 477h1v1h-1zM54 484h2v1h-2zM84 484h1v1h-1zM413 484h2v1h-2zM1048 217h1v1h-1zM376 447h1v1h-1zM472 447h1v1h-1zM580 447h1v1h-1zM752 447h1v1h-1zM125 456h1v1h-1zM386 456h2v1h-2zM590 456h2v1h-2zM743 456h1v1h-1zM656 510h5v1h-5zM22 480h2v1h-2zM25 480h2v1h-2zM29 480h1v1h-1zM41 480h1v1h-1zM47 480h2v1h-2zM87 480h1v1h-1zM409 480h1v1h-1zM429 480h1v1h-1zM721 480h1v1h-1zM1131 246h1v1h-1zM1133 246h2v1h-2zM998 242h1v1h-1zM1128 242h1v1h-1zM123 457h2v1h-2zM265 457h1v1h-1zM388 457h1v1h-1zM461 457h1v1h-1zM592 457h1v1h-1zM742 457h1v1h-1zM96 473h1v1h-1zM435 473h1v1h-1zM727 473h1v1h-1zM1226 345h8v1h-8zM1249 345h1v1h-1zM1009 228h1v1h-1zM379 451h1v1h-1zM466 451h2v1h-2zM747 451h1v1h-1zM993 238h1v1h-1zM129 453h2v1h-2zM268 453h1v1h-1zM381 453h2v1h-2zM464 453h1v1h-1zM587 453h1v1h-1zM928 108h1v1h-1zM111 460h7v1h-7zM259 460h2v1h-2zM458 460h1v1h-1zM595 460h1v1h-1zM619 460h2v1h-2zM738 460h2v1h-2zM1234 346h3v1h-3zM1248 346h1v1h-1zM65 494h2v1h-2zM69 494h1v1h-1zM677 494h1v1h-1zM1027 208h6v1h-6zM441 467h1v1h-1zM628 467h1v1h-1zM1110 213h1v1h-1zM1114 213h2v1h-2zM34 483h3v1h-3zM53 483h1v1h-1zM85 483h1v1h-1zM412 483h1v1h-1zM57 486h1v1h-1zM82 486h1v1h-1zM418 486h7v1h-7zM716 486h1v1h-1zM180 424h2v1h-2zM185 424h1v1h-1zM193 424h1v1h-1zM202 424h2v1h-2zM225 424h1v1h-1zM237 424h1v1h-1zM342 424h1v1h-1zM777 424h2v1h-2zM785 424h2v1h-2zM439 469h1v1h-1zM730 469h1v1h-1zM1015 222h1v1h-1zM1071 222h1v1h-1zM958 201h2v1h-2zM398 471h1v1h-1zM437 471h1v1h-1zM631 471h1v1h-1zM136 446h1v1h-1zM473 446h1v1h-1zM578 446h2v1h-2zM753 446h1v1h-1zM1063 231h2v1h-2zM1238 348h2v1h-2zM1245 348h1v1h-1zM652 507h1v1h-1zM665 507h1v1h-1zM978 206h1v1h-1zM1024 206h1v1h-1zM1034 206h1v1h-1zM855 401h2v1h-2zM651 506h1v1h-1zM666 506h2v1h-2zM1139 241h1v1h-1zM1141 241h1v1h-1zM102 464h2v1h-2zM444 464h1v1h-1zM451 464h2v1h-2zM599 464h1v1h-1zM610 464h3v1h-3zM734 464h1v1h-1zM1012 225h1v1h-1zM1069 225h1v1h-1zM67 495h2v1h-2zM676 495h1v1h-1zM1098 237h1v1h-1zM348 418h2v1h-2zM357 418h1v1h-1zM926 107h2v1h-2zM1037 203h1v1h-1zM1010 227h1v1h-1zM1067 227h1v1h-1zM1014 223h1v1h-1zM852 403h1v1h-1zM1129 243h1v1h-1zM1262 324h3v1h-3zM859 399h3v1h-3zM866 399h3v1h-3zM1237 347h1v1h-1zM1246 347h2v1h-2zM61 491h1v1h-1zM73 491h1v1h-1zM680 491h1v1h-1zM1036 204h1v1h-1zM1011 226h1v1h-1zM1068 226h1v1h-1zM1132 247h1v1h-1zM848 409h1v1h-1zM1013 224h1v1h-1zM925 106h1v1h-1zM1057 232h1v1h-1zM1061 232h2v1h-2zM1035 205h1v1h-1zM1189 384h1v1h-1zM1190 385h1v1h-1zM438 470h1v1h-1zM1111 212h1v1h-1zM1113 212h1v1h-1zM1191 386h1v1h-1zM1192 387h1v1h-1zM675 496h1v1h-1zM1058 233h3v1h-3zM1089 233h4v1h-4zM648 502h1v1h-1zM670 502h1v1h-1zM1252 341h1v1h-1zM871 397h1v1h-1zM1267 328h1v1h-1zM1065 230h1v1h-1zM1254 338h1v1h-1zM1261 325h1v1h-1zM1265 325h1v1h-1zM674 497h1v1h-1zM1112 211h1v1h-1zM1049 218h1v1h-1zM649 503h1v1h-1zM1022 209h1v1h-1zM1051 221h1v1h-1z" fill="#ffa500" shape-rendering="crispEdges"/>
<rect x="4" y="202" width="1592" height="2" fill="#ff0000"/>
<rect x="3" y="200" width="6" height="6" fill="#ff0000"/>
<rect x="5" y="202" width="2" height="2" fill="#fff"/>
<rect x="1590" y="200" width="6" height="6" fill="#ff0000"/>
<rect x="1592" y="202" width="2" height="2" fill="#fff"/>
<rect x="4" y="273" width="1592" height="2" fill="#ff0000"/>
<rect x="3" y="271" width="6" height="6" fill="#ff0000"/>
<rect x="5" y="273" width="2" height="2" fill="#fff"/>
<rect x="1590" y="271" width="6" height="6" fill="#ff0000"/>
<rect x="1592" y="273" width="2" height="2" fill="#fff"/>
<rect x="4" y="340" width="1592" height="2" fill="#00ff00"/>
<rect x="3" y="338" width="6" height="6" fill="#00ff00"/>
<rect x="5" y="340" width="2" height="2" fill="#fff"/>
<rect x="1590" y="338" width="6" height="6" fill="#00ff00"/>
<rect x="1592" y="340" width="2" height="2" fill="#fff"/>
<rect x="4" y="422" width="1592" height="2" fill="#0000ff"/>
<rect x="3" y="420" width="6" height="6" fill="#0000ff"/>
<rect x="5" y="422" width="2" height="2" fill="#fff"/>
<rect x="1590" y="420" width="6" height="6" fill="#0000ff"/>
<rect x="1592" y="422" width="2" height="2" fill="#fff"/>
<rect x="4" y="504" width="1592" height="2" fill="#0000ff"/>
<rect x="3" y="502" width="6" height="6" fill="#0000ff"/>
<rect x="5" y="504" width="2" height="2" fill="#fff"/>
<rect x="1590" y="502" width="6" height="6" fill="#0000ff"/>
<rect x="1592" y="504" width="2" height="2" fill="#fff"/>
</g>
<rect x="3" y="200" width="6" height="6" fill="#ff0000"/>
<rect x="5" y="202" width="2" height="2" fill="#fff"/>
<rect x="3" y="271" width="6" height="6" fill="#ff0000"/>
<rect x="5" y="273" width="2" height="2" fill="#fff"/>
<rect x="3" y="338" width="6" height="6" fill="#00ff00"/>
<rect x="5" y="340" width="2" height="2" fill="#fff"/>
<rect x="3" y="420" width="6" height="6" fill="#0000ff"/>
<rect x="5" y="422" width="2" height="2" fill="#fff"/>
<rect x="3" y="502" width="6" height="6" fill="#0000ff"/>
<rect x="5" y="504" width="2" height="2" fill="#fff"/>
<g fill="none" stroke="#000" stroke-width="1" shape-rendering="crispEdges">
<rect x="3.5" y="25.5" width="1593" height="506"/>
<rect x="3.5" y="533.5" width="1593" height="92"/>
<rect x="3.5" y="627.5" width="1593" height="92"/>
</g>
<path d="M1272 26 L1281 26 L1276.5 31 Z" fill="#c0c0c0"/>
<rect x="1597" y="33" width="2" height="1" fill="#000"/>
<text x="1602.5" y="37" font-size="10" fill="#000" text-anchor="start" textLength="32.5" lengthAdjust="spacingAndGlyphs"  stroke="#000" stroke-width="0.15">1.47305</text>
<rect x="1597" y="66" width="2" height="1" fill="#000"/>
<text x="1602.5" y="70" font-size="10" fill="#000" text-anchor="start" textLength="32.5" lengthAdjust="spacingAndGlyphs"  stroke="#000" stroke-width="0.15">1.46080</text>
<rect x="1597" y="99" width="2" height="1" fill="#000"/>
<text x="1602.5" y="103" font-size="10" fill="#000" text-anchor="start" textLength="32.5" lengthAdjust="spacingAndGlyphs"  stroke="#000" stroke-width="0.15">1.44890</text>
<rect x="1597" y="132" width="2" height="1" fill="#000"/>
<text x="1602.5" y="136" font-size="10" fill="#000" text-anchor="start" textLength="32.5" lengthAdjust="spacingAndGlyphs"  stroke="#000" stroke-width="0.15">1.43665</text>
<rect x="1597" y="165" width="2" height="1" fill="#000"/>
<text x="1602.5" y="169" font-size="10" fill="#000" text-anchor="start" textLength="32.5" lengthAdjust="spacingAndGlyphs"  stroke="#000" stroke-width="0.15">1.42440</text>
<rect x="1597" y="198" width="2" height="1" fill="#000"/>
<text x="1602.5" y="202" font-size="10" fill="#000" text-anchor="start" textLength="32.5" lengthAdjust="spacingAndGlyphs"  stroke="#000" stroke-width="0.15">1.41250</text>
<rect x="1597" y="231" width="2" height="1" fill="#000"/>
<text x="1602.5" y="235" font-size="10" fill="#000" text-anchor="start" textLength="32.5" lengthAdjust="spacingAndGlyphs"  stroke="#000" stroke-width="0.15">1.40025</text>
<rect x="1597" y="264" width="2" height="1" fill="#000"/>
<text x="1602.5" y="268" font-size="10" fill="#000" text-anchor="start" textLength="32.5" lengthAdjust="spacingAndGlyphs"  stroke="#000" stroke-width="0.15">1.38835</text>
<rect x="1597" y="297" width="2" height="1" fill="#000"/>
<text x="1602.5" y="301" font-size="10" fill="#000" text-anchor="start" textLength="32.5" lengthAdjust="spacingAndGlyphs"  stroke="#000" stroke-width="0.15">1.37610</text>
<rect x="1597" y="330" width="2" height="1" fill="#000"/>
<text x="1602.5" y="334" font-size="10" fill="#000" text-anchor="start" textLength="32.5" lengthAdjust="spacingAndGlyphs"  stroke="#000" stroke-width="0.15">1.36420</text>
<rect x="1597" y="363" width="2" height="1" fill="#000"/>
<text x="1602.5" y="367" font-size="10" fill="#000" text-anchor="start" textLength="32.5" lengthAdjust="spacingAndGlyphs"  stroke="#000" stroke-width="0.15">1.35195</text>
<rect x="1597" y="396" width="2" height="1" fill="#000"/>
<text x="1602.5" y="400" font-size="10" fill="#000" text-anchor="start" textLength="32.5" lengthAdjust="spacingAndGlyphs"  stroke="#000" stroke-width="0.15">1.34005</text>
<rect x="1597" y="429" width="2" height="1" fill="#000"/>
<text x="1602.5" y="433" font-size="10" fill="#000" text-anchor="start" textLength="32.5" lengthAdjust="spacingAndGlyphs"  stroke="#000" stroke-width="0.15">1.32780</text>
<rect x="1597" y="462" width="2" height="1" fill="#000"/>
<text x="1602.5" y="466" font-size="10" fill="#000" text-anchor="start" textLength="32.5" lengthAdjust="spacingAndGlyphs"  stroke="#000" stroke-width="0.15">1.31590</text>
<rect x="1597" y="495" width="2" height="1" fill="#000"/>
<text x="1602.5" y="499" font-size="10" fill="#000" text-anchor="start" textLength="32.5" lengthAdjust="spacingAndGlyphs"  stroke="#000" stroke-width="0.15">1.30365</text>
<rect x="1597" y="528" width="2" height="1" fill="#000"/>
<text x="1602.5" y="532" font-size="10" fill="#000" text-anchor="start" textLength="32.5" lengthAdjust="spacingAndGlyphs"  stroke="#000" stroke-width="0.15">1.29175</text>
<rect x="1598" y="197" width="41" height="11" fill="#ff0000"/>
<text x="1602.5" y="205.9" font-size="10" fill="#fff" text-anchor="start" textLength="32.5" lengthAdjust="spacingAndGlyphs"  stroke="#fff" stroke-width="0.15">1.41060</text>
<rect x="1598" y="268" width="41" height="11" fill="#ff0000"/>
<text x="1602.5" y="276.9" font-size="10" fill="#fff" text-anchor="start" textLength="32.5" lengthAdjust="spacingAndGlyphs"  stroke="#fff" stroke-width="0.15">1.38464</text>
<rect x="1598" y="335" width="41" height="11" fill="#00ff00"/>
<text x="1602.5" y="343.9" font-size="10" fill="#fff" text-anchor="start" textLength="32.5" lengthAdjust="spacingAndGlyphs"  stroke="#fff" stroke-width="0.15">1.36015</text>
<rect x="1598" y="346" width="41" height="9" fill="#000000"/>
<text x="1602.5" y="353.0" font-size="10" fill="#fff" text-anchor="start" textLength="32.5" lengthAdjust="spacingAndGlyphs"  stroke="#fff" stroke-width="0.15">1.35708</text>
<rect x="1598" y="417" width="41" height="11" fill="#0000ff"/>
<text x="1602.5" y="425.9" font-size="10" fill="#fff" text-anchor="start" textLength="32.5" lengthAdjust="spacingAndGlyphs"  stroke="#fff" stroke-width="0.15">1.33011</text>
<rect x="1598" y="499" width="41" height="11" fill="#0000ff"/>
<text x="1602.5" y="507.9" font-size="10" fill="#fff" text-anchor="start" textLength="32.5" lengthAdjust="spacingAndGlyphs"  stroke="#fff" stroke-width="0.15">1.30020</text>
<path d="M7 32 L14 32 L10.5 36 Z" fill="#000"/>
<text x="19.5" y="37" font-size="10" fill="#000" text-anchor="start" textLength="65" lengthAdjust="spacingAndGlyphs"  stroke="#000" stroke-width="0.15">USDCAD,Daily</text>
<text x="90.9" y="37" font-size="10" fill="#000" text-anchor="start" textLength="140.7" lengthAdjust="spacingAndGlyphs"  stroke="#000" stroke-width="0.15">1.36135 1.36165 1.35690 1.35708</text>
<text x="8" y="546" font-size="10" fill="#000" text-anchor="start" textLength="68" lengthAdjust="spacingAndGlyphs"  stroke="#000" stroke-width="0.15">RSI(14) 44.8593</text>
<g clip-path="url(#cr)">
<line x1="5" y1="561.5" x2="1597" y2="561.5" stroke="#c0c0c0" stroke-dasharray="3,3" shape-rendering="crispEdges"/>
<line x1="5" y1="597.5" x2="1597" y2="597.5" stroke="#c0c0c0" stroke-dasharray="3,3" shape-rendering="crispEdges"/>
<path d="M713 578h1v2h-1zM356 570h1v2h-1zM1059 578h1v2h-1zM1198 591h1v4h-1zM826 576h1v2h-1zM363 587h1v3h-1zM161 573h1v2h-1zM876 555h1v3h-1zM139 561h1v2h-1zM546 574h1v4h-1zM712 580h1v2h-1zM481 567h1v2h-1zM169 567h1v2h-1zM929 556h1v2h-1zM1080 581h1v2h-1zM1073 578h1v2h-1zM1114 578h1v2h-1zM38 590h1v2h-1zM426 584h1v4h-1zM457 574h1v2h-1zM973 576h1v2h-1zM784 559h1v2h-1zM1244 581h1v2h-1zM785 561h1v2h-1zM361 582h1v3h-1zM730 566h1v2h-1zM859 566h1v2h-1zM27 594h1v2h-1zM1004 575h1v2h-1zM1000 583h1v2h-1zM910 545h1v2h-1zM660 600h1v2h-1zM547 578h1v3h-1zM483 571h1v2h-1zM171 570h1v2h-1zM266 578h1v2h-1zM26 596h1v2h-1zM364 590h1v2h-1zM429 577h1v2h-1zM117 576h1v2h-1zM934 568h1v3h-1zM945 577h1v2h-1zM330 576h1v2h-1zM498 568h1v2h-1zM257 590h1v2h-1zM371 585h1v2h-1zM235 578h1v3h-1zM120 570h1v2h-1zM25 598h1v2h-1zM265 580h1v2h-1zM163 569h1v2h-1zM854 565h1v3h-1zM838 562h1v2h-1zM497 570h1v2h-1zM329 578h1v3h-1zM1021 575h1v2h-1zM256 592h1v2h-1zM185 569h1v2h-1zM135 567h1v2h-1zM670 582h1v2h-1zM359 577h1v2h-1zM242 586h1v2h-1zM666 589h1v2h-1zM1263 579h1v2h-1zM1130 580h1v2h-1zM662 596h1v2h-1zM81 586h1v2h-1zM236 581h1v2h-1zM621 586h1v2h-1zM853 563h1v2h-1zM556 577h1v2h-1zM11 597h1v2h-1zM661 598h1v2h-1zM936 574h1v2h-1zM142 565h1v3h-1zM187 572h1v2h-1zM1162 592h1v2h-1zM274 576h1v2h-1zM243 588h1v2h-1zM358 574h1v3h-1zM1163 594h1v2h-1zM69 592h1v2h-1zM259 586h1v2h-1zM554 582h1v3h-1zM1060 576h1v2h-1zM1200 586h1v2h-1zM828 571h1v2h-1zM428 576h1v3h-1zM931 560h1v2h-1zM140 560h1v2h-1zM603 586h1v2h-1zM141 562h1v3h-1zM1116 582h1v2h-1zM1161 590h1v2h-1zM975 579h1v2h-1zM672 578h1v2h-1zM786 563h1v2h-1zM893 547h1v2h-1zM668 586h1v2h-1zM664 592h1v2h-1zM549 583h1v2h-1zM382 590h1v2h-1zM1058 580h1v2h-1zM431 580h1v2h-1zM1141 582h1v2h-1zM880 547h1v2h-1zM947 573h1v2h-1zM842 556h1v2h-1zM544 569h1v2h-1zM1243 583h1v2h-1zM518 565h1v2h-1zM164 567h1v2h-1zM879 549h1v2h-1zM825 578h1v3h-1zM84 580h1v2h-1zM258 588h1v2h-1zM837 564h1v2h-1zM232 570h1v2h-1zM133 570h1v2h-1zM855 568h1v2h-1zM878 551h1v2h-1zM83 582h1v2h-1zM425 588h1v5h-1zM482 569h1v2h-1zM360 579h1v3h-1zM663 594h1v2h-1zM82 584h1v2h-1zM857 569h1v2h-1zM933 565h1v3h-1zM781 553h1v2h-1zM915 552h1v2h-1zM716 572h1v2h-1zM895 550h1v2h-1zM244 590h1v2h-1zM639 603h1v2h-1zM119 572h1v2h-1zM332 571h1v2h-1zM715 574h1v2h-1zM551 587h1v2h-1zM548 581h1v2h-1zM669 584h1v2h-1zM1197 595h1v3h-1zM623 589h1v2h-1zM913 549h1v2h-1zM932 562h1v3h-1zM118 574h1v2h-1zM875 558h1v2h-1zM137 564h1v2h-1zM787 565h1v2h-1zM637 599h1v2h-1zM1143 586h1v2h-1zM1196 598h1v2h-1zM824 581h1v2h-1zM10 599h1v2h-1zM550 585h1v2h-1zM1002 579h1v2h-1zM9 601h1v2h-1zM553 585h1v3h-1zM234 575h1v3h-1zM1199 588h1v3h-1zM28 592h1v2h-1zM594 593h1v2h-1zM827 573h1v3h-1zM1142 584h1v2h-1zM1001 581h1v2h-1zM1077 575h1v2h-1zM500 564h1v2h-1zM427 579h1v5h-1zM545 571h1v3h-1zM1115 580h1v2h-1zM602 588h1v2h-1zM267 576h1v2h-1zM370 587h1v2h-1zM499 566h1v2h-1zM1023 572h1v2h-1zM331 573h1v3h-1zM233 572h1v3h-1zM673 579h1v2h-1zM1057 582h1v2h-1zM856 570h1v2h-1zM1113 576h1v2h-1zM780 551h1v2h-1zM783 557h1v2h-1zM72 586h1v2h-1zM1003 577h1v2h-1zM459 571h1v2h-1zM873 562h1v2h-1zM675 582h1v2h-1zM71 588h1v2h-1zM1261 576h1v2h-1zM70 590h1v2h-1zM162 571h1v2h-1zM601 590h1v2h-1zM496 572h1v2h-1zM552 588h1v2h-1zM369 589h1v2h-1zM362 585h1v2h-1zM1056 584h1v2h-1zM852 561h1v2h-1zM638 601h1v2h-1zM1079 579h1v2h-1zM1026 573h1v2h-1zM555 579h1v3h-1zM935 571h1v3h-1zM874 560h1v2h-1zM144 571h1v2h-1zM357 572h1v2h-1zM946 575h1v2h-1zM714 576h1v2h-1zM424 593h1v3h-1zM930 558h1v2h-1zM1078 577h1v2h-1zM839 560h1v2h-1zM782 555h1v2h-1zM143 568h1v3h-1zM671 580h1v2h-1zM328 581h1v2h-1zM12 595h1v2h-1zM1075 575h1v2h-1zM1242 585h1v2h-1zM98 573h1v2h-1zM1010 575h1v2h-1zM1241 587h1v2h-1zM877 553h1v2h-1zM260 584h1v2h-1zM241 584h1v2h-1zM103 573h2v1h-2zM145 573h2v1h-2zM174 573h3v1h-3zM189 573h2v1h-2zM198 573h2v1h-2zM221 573h1v1h-1zM348 573h1v1h-1zM458 573h1v1h-1zM484 573h1v1h-1zM490 573h1v1h-1zM495 573h1v1h-1zM803 573h1v1h-1zM805 573h1v1h-1zM810 573h1v1h-1zM949 573h2v1h-2zM953 573h1v1h-1zM958 573h1v1h-1zM1007 573h2v1h-2zM99 572h1v1h-1zM101 572h2v1h-2zM131 572h2v1h-2zM172 572h2v1h-2zM177 572h2v1h-2zM191 572h3v1h-3zM197 572h1v1h-1zM222 572h2v1h-2zM346 572h2v1h-2zM349 572h1v1h-1zM485 572h2v1h-2zM489 572h1v1h-1zM802 572h1v1h-1zM806 572h2v1h-2zM809 572h1v1h-1zM948 572h1v1h-1zM954 572h2v1h-2zM957 572h1v1h-1zM1025 572h1v1h-1zM97 575h1v1h-1zM106 575h1v1h-1zM110 575h2v1h-2zM113 575h1v1h-1zM149 575h1v1h-1zM154 575h2v1h-2zM158 575h3v1h-3zM205 575h2v1h-2zM209 575h2v1h-2zM268 575h2v1h-2zM273 575h1v1h-1zM283 575h1v1h-1zM285 575h1v1h-1zM294 575h4v1h-4zM308 575h2v1h-2zM492 575h1v1h-1zM812 575h1v1h-1zM937 575h4v1h-4zM960 575h2v1h-2zM970 575h3v1h-3zM1027 575h1v1h-1zM1110 575h3v1h-3zM1251 575h2v1h-2zM1260 575h1v1h-1zM317 580h2v1h-2zM446 580h2v1h-2zM562 580h2v1h-2zM821 580h1v1h-1zM977 580h2v1h-2zM981 580h2v1h-2zM1045 580h1v1h-1zM1072 580h1v1h-1zM1091 580h1v1h-1zM1094 580h3v1h-3zM1135 580h3v1h-3zM1245 580h1v1h-1zM14 596h3v1h-3zM54 596h4v1h-4zM395 596h3v1h-3zM422 596h2v1h-2zM596 596h1v1h-1zM630 596h3v1h-3zM1164 596h1v1h-1zM501 565h1v1h-1zM510 565h3v1h-3zM731 565h1v1h-1zM860 565h2v1h-2zM73 586h4v1h-4zM374 586h2v1h-2zM575 586h1v1h-1zM577 586h2v1h-2zM581 586h1v1h-1zM615 586h3v1h-3zM1119 586h1v1h-1zM1121 586h2v1h-2zM1201 586h1v1h-1zM1216 586h2v1h-2zM1235 586h1v1h-1zM237 582h1v1h-1zM263 582h2v1h-2zM326 582h2v1h-2zM432 582h6v1h-6zM442 582h3v1h-3zM569 582h2v1h-2zM687 582h2v1h-2zM699 582h3v1h-3zM706 582h4v1h-4zM990 582h7v1h-7zM1048 582h1v1h-1zM1089 582h1v1h-1zM1129 582h1v1h-1zM1265 582h2v1h-2zM373 585h1v1h-1zM574 585h1v1h-1zM579 585h2v1h-2zM604 585h6v1h-6zM613 585h2v1h-2zM618 585h3v1h-3zM1054 585h2v1h-2zM1084 585h1v1h-1zM1118 585h1v1h-1zM1123 585h2v1h-2zM1202 585h3v1h-3zM1214 585h2v1h-2zM1218 585h3v1h-3zM1234 585h1v1h-1zM122 569h4v1h-4zM134 569h1v1h-1zM170 569h1v1h-1zM182 569h2v1h-2zM335 569h3v1h-3zM341 569h2v1h-2zM462 569h3v1h-3zM471 569h2v1h-2zM521 569h2v1h-2zM526 569h3v1h-3zM538 569h2v1h-2zM542 569h2v1h-2zM719 569h1v1h-1zM722 569h7v1h-7zM790 569h2v1h-2zM830 569h1v1h-1zM319 581h7v1h-7zM438 581h4v1h-4zM445 581h1v1h-1zM564 581h5v1h-5zM674 581h1v1h-1zM702 581h4v1h-4zM710 581h2v1h-2zM822 581h2v1h-2zM976 581h1v1h-1zM983 581h7v1h-7zM1046 581h2v1h-2zM1090 581h1v1h-1zM1138 581h3v1h-3zM1264 581h1v1h-1zM77 587h2v1h-2zM376 587h2v1h-2zM576 587h1v1h-1zM582 587h2v1h-2zM1120 587h1v1h-1zM1236 587h1v1h-1zM105 574h1v1h-1zM112 574h1v1h-1zM147 574h2v1h-2zM156 574h2v1h-2zM188 574h1v1h-1zM200 574h5v1h-5zM211 574h10v1h-10zM270 574h3v1h-3zM284 574h1v1h-1zM491 574h1v1h-1zM493 574h2v1h-2zM804 574h1v1h-1zM811 574h1v1h-1zM951 574h2v1h-2zM959 574h1v1h-1zM962 574h8v1h-8zM1005 574h2v1h-2zM1009 574h1v1h-1zM1022 574h1v1h-1zM1076 574h1v1h-1zM13 595h1v1h-1zM51 595h3v1h-3zM58 595h3v1h-3zM393 595h2v1h-2zM595 595h1v1h-1zM597 595h1v1h-1zM628 595h2v1h-2zM85 579h2v1h-2zM276 579h2v1h-2zM304 579h1v1h-1zM316 579h1v1h-1zM430 579h1v1h-1zM448 579h1v1h-1zM561 579h1v1h-1zM819 579h2v1h-2zM944 579h1v1h-1zM979 579h2v1h-2zM1014 579h3v1h-3zM1032 579h1v1h-1zM1044 579h1v1h-1zM1071 579h1v1h-1zM1092 579h2v1h-2zM1097 579h1v1h-1zM1131 579h1v1h-1zM1133 579h2v1h-2zM1246 579h1v1h-1zM95 576h2v1h-2zM107 576h1v1h-1zM109 576h1v1h-1zM114 576h1v1h-1zM150 576h2v1h-2zM153 576h1v1h-1zM207 576h2v1h-2zM282 576h1v1h-1zM286 576h2v1h-2zM290 576h4v1h-4zM298 576h3v1h-3zM307 576h1v1h-1zM310 576h3v1h-3zM452 576h5v1h-5zM813 576h2v1h-2zM941 576h1v1h-1zM1028 576h1v1h-1zM1036 576h5v1h-5zM1061 576h1v1h-1zM1066 576h3v1h-3zM1100 576h10v1h-10zM1249 576h2v1h-2zM1253 576h1v1h-1zM1258 576h2v1h-2zM39 589h1v1h-1zM41 589h2v1h-2zM381 589h1v1h-1zM585 589h1v1h-1zM1145 589h2v1h-2zM1154 589h2v1h-2zM1158 589h3v1h-3zM1239 589h2v1h-2zM87 578h6v1h-6zM116 578h1v1h-1zM275 578h1v1h-1zM278 578h3v1h-3zM302 578h2v1h-2zM305 578h1v1h-1zM314 578h2v1h-2zM449 578h1v1h-1zM558 578h3v1h-3zM817 578h2v1h-2zM943 578h1v1h-1zM974 578h1v1h-1zM1012 578h2v1h-2zM1017 578h2v1h-2zM1030 578h2v1h-2zM1033 578h1v1h-1zM1042 578h2v1h-2zM1070 578h1v1h-1zM1098 578h1v1h-1zM1132 578h1v1h-1zM1247 578h1v1h-1zM1256 578h1v1h-1zM1262 578h1v1h-1zM779 551h1v1h-1zM884 551h1v1h-1zM898 551h3v1h-3zM914 551h1v1h-1zM923 551h2v1h-2zM43 590h2v1h-2zM246 590h3v1h-3zM586 590h2v1h-2zM1147 590h3v1h-3zM1153 590h1v1h-1zM644 601h6v1h-6zM658 601h2v1h-2zM1187 601h2v1h-2zM100 571h1v1h-1zM129 571h2v1h-2zM179 571h2v1h-2zM186 571h1v1h-1zM194 571h3v1h-3zM224 571h6v1h-6zM345 571h1v1h-1zM350 571h2v1h-2zM467 571h2v1h-2zM487 571h2v1h-2zM531 571h6v1h-6zM717 571h1v1h-1zM801 571h1v1h-1zM808 571h1v1h-1zM956 571h1v1h-1zM1024 571h1v1h-1zM238 583h3v1h-3zM261 583h2v1h-2zM571 583h2v1h-2zM678 583h4v1h-4zM685 583h2v1h-2zM689 583h2v1h-2zM697 583h2v1h-2zM997 583h2v1h-2zM1049 583h2v1h-2zM1081 583h1v1h-1zM1087 583h2v1h-2zM1127 583h2v1h-2zM1207 583h6v1h-6zM1223 583h10v1h-10zM1267 583h2v1h-2zM758 554h3v1h-3zM844 554h1v1h-1zM916 554h2v1h-2zM927 554h1v1h-1zM763 552h11v1h-11zM777 552h2v1h-2zM896 552h2v1h-2zM921 552h2v1h-2zM925 552h1v1h-1zM93 577h2v1h-2zM108 577h1v1h-1zM115 577h1v1h-1zM152 577h1v1h-1zM281 577h1v1h-1zM288 577h2v1h-2zM301 577h1v1h-1zM306 577h1v1h-1zM313 577h1v1h-1zM450 577h2v1h-2zM557 577h1v1h-1zM815 577h2v1h-2zM942 577h1v1h-1zM1011 577h1v1h-1zM1019 577h2v1h-2zM1029 577h1v1h-1zM1034 577h2v1h-2zM1041 577h1v1h-1zM1062 577h4v1h-4zM1069 577h1v1h-1zM1074 577h1v1h-1zM1099 577h1v1h-1zM1248 577h1v1h-1zM1254 577h2v1h-2zM1257 577h1v1h-1zM372 584h1v1h-1zM573 584h1v1h-1zM610 584h3v1h-3zM676 584h2v1h-2zM682 584h3v1h-3zM691 584h6v1h-6zM999 584h1v1h-1zM1051 584h3v1h-3zM1082 584h2v1h-2zM1085 584h2v1h-2zM1117 584h1v1h-1zM1125 584h2v1h-2zM1205 584h2v1h-2zM1213 584h1v1h-1zM1221 584h2v1h-2zM1233 584h1v1h-1zM17 597h1v1h-1zM398 597h8v1h-8zM421 597h1v1h-1zM633 597h2v1h-2zM1165 597h2v1h-2zM31 594h3v1h-3zM49 594h2v1h-2zM61 594h2v1h-2zM66 594h3v1h-3zM390 594h3v1h-3zM598 594h1v1h-1zM627 594h1v1h-1zM1 603h2v1h-2zM6 603h3v1h-3zM642 603h1v1h-1zM513 564h2v1h-2zM517 564h1v1h-1zM732 564h5v1h-5zM862 564h3v1h-3zM871 564h2v1h-2zM761 553h2v1h-2zM774 553h3v1h-3zM918 553h3v1h-3zM926 553h1v1h-1zM882 549h1v1h-1zM886 549h2v1h-2zM894 549h1v1h-1zM902 549h1v1h-1zM756 555h2v1h-2zM843 555h1v1h-1zM845 555h1v1h-1zM928 555h1v1h-1zM750 558h3v1h-3zM841 558h1v1h-1zM849 558h1v1h-1zM22 600h3v1h-3zM650 600h8v1h-8zM1179 600h3v1h-3zM1185 600h2v1h-2zM1189 600h2v1h-2zM121 570h1v1h-1zM126 570h3v1h-3zM181 570h1v1h-1zM230 570h2v1h-2zM333 570h2v1h-2zM343 570h2v1h-2zM352 570h4v1h-4zM460 570h2v1h-2zM465 570h2v1h-2zM469 570h2v1h-2zM523 570h3v1h-3zM529 570h2v1h-2zM537 570h1v1h-1zM718 570h1v1h-1zM792 570h9v1h-9zM829 570h1v1h-1zM743 559h7v1h-7zM840 559h1v1h-1zM850 559h1v1h-1zM18 598h2v1h-2zM406 598h4v1h-4zM418 598h3v1h-3zM635 598h2v1h-2zM1167 598h3v1h-3zM1174 598h3v1h-3zM37 592h1v1h-1zM46 592h2v1h-2zM250 592h2v1h-2zM383 592h1v1h-1zM593 592h1v1h-1zM600 592h1v1h-1zM625 592h1v1h-1zM165 567h1v1h-1zM475 567h3v1h-3zM504 567h2v1h-2zM519 567h1v1h-1zM788 567h1v1h-1zM832 567h2v1h-2zM29 593h2v1h-2zM34 593h3v1h-3zM48 593h1v1h-1zM63 593h3v1h-3zM252 593h4v1h-4zM384 593h6v1h-6zM599 593h1v1h-1zM626 593h1v1h-1zM184 568h1v1h-1zM338 568h3v1h-3zM473 568h2v1h-2zM520 568h1v1h-1zM540 568h2v1h-2zM720 568h2v1h-2zM729 568h1v1h-1zM789 568h1v1h-1zM831 568h1v1h-1zM858 568h1v1h-1zM20 599h2v1h-2zM410 599h8v1h-8zM1170 599h4v1h-4zM1177 599h2v1h-2zM1182 599h3v1h-3zM1191 599h5v1h-5zM40 588h1v1h-1zM79 588h2v1h-2zM378 588h3v1h-3zM584 588h1v1h-1zM622 588h1v1h-1zM667 588h1v1h-1zM1144 588h1v1h-1zM1156 588h2v1h-2zM1237 588h2v1h-2zM136 566h1v1h-1zM166 566h3v1h-3zM478 566h3v1h-3zM502 566h2v1h-2zM506 566h4v1h-4zM834 566h3v1h-3zM138 563h1v1h-1zM515 563h2v1h-2zM737 563h1v1h-1zM865 563h2v1h-2zM869 563h2v1h-2zM881 548h1v1h-1zM888 548h1v1h-1zM903 548h1v1h-1zM912 548h1v1h-1zM3 602h3v1h-3zM643 602h1v1h-1zM907 544h1v1h-1zM909 544h1v1h-1zM883 550h1v1h-1zM885 550h1v1h-1zM901 550h1v1h-1zM45 591h1v1h-1zM245 591h1v1h-1zM249 591h1v1h-1zM365 591h4v1h-4zM588 591h5v1h-5zM624 591h1v1h-1zM665 591h1v1h-1zM1150 591h3v1h-3zM889 547h2v1h-2zM904 547h1v1h-1zM911 547h1v1h-1zM741 560h2v1h-2zM851 560h1v1h-1zM891 546h2v1h-2zM905 546h1v1h-1zM738 562h2v1h-2zM867 562h2v1h-2zM0 604h1v1h-1zM641 604h1v1h-1zM908 543h1v1h-1zM754 556h2v1h-2zM846 556h2v1h-2zM906 545h1v1h-1zM753 557h1v1h-1zM848 557h1v1h-1zM640 605h1v1h-1zM740 561h1v1h-1z" fill="#1e90ff" shape-rendering="crispEdges"/>
</g>
<text transform="translate(1600.5,544.1) scale(0.9,1)" font-size="10" fill="#000" text-anchor="start"  stroke="#000" stroke-width="0.15">100</text>
<text transform="translate(1600.5,565.1) scale(0.9,1)" font-size="10" fill="#000" text-anchor="start"  stroke="#000" stroke-width="0.15">70</text>
<text transform="translate(1600.5,601.1) scale(0.9,1)" font-size="10" fill="#000" text-anchor="start"  stroke="#000" stroke-width="0.15">30</text>
<text transform="translate(1600.5,621.9) scale(0.9,1)" font-size="10" fill="#000" text-anchor="start"  stroke="#000" stroke-width="0.15">0</text>
<rect x="1597" y="535" width="1" height="1" fill="#000"/>
<rect x="1597" y="624" width="1" height="1" fill="#000"/>
<text x="8" y="640" font-size="10" fill="#000" text-anchor="start" textLength="153" lengthAdjust="spacingAndGlyphs"  stroke="#000" stroke-width="0.15">MACD(12,26,9) -0.001867 -0.003645</text>
<g clip-path="url(#cd)">
<g shape-rendering="crispEdges">
<rect x="4" y="687" width="1" height="15" fill="#c0c0c0"/>
<rect x="8" y="687" width="1" height="15" fill="#c0c0c0"/>
<rect x="12" y="687" width="1" height="15" fill="#c0c0c0"/>
<rect x="16" y="687" width="1" height="15" fill="#c0c0c0"/>
<rect x="20" y="687" width="1" height="15" fill="#c0c0c0"/>
<rect x="24" y="687" width="1" height="16" fill="#c0c0c0"/>
<rect x="28" y="687" width="1" height="15" fill="#c0c0c0"/>
<rect x="32" y="687" width="1" height="15" fill="#c0c0c0"/>
<rect x="36" y="687" width="1" height="14" fill="#c0c0c0"/>
<rect x="40" y="687" width="1" height="13" fill="#c0c0c0"/>
<rect x="44" y="687" width="1" height="13" fill="#c0c0c0"/>
<rect x="48" y="687" width="1" height="12" fill="#c0c0c0"/>
<rect x="52" y="687" width="1" height="12" fill="#c0c0c0"/>
<rect x="56" y="687" width="1" height="13" fill="#c0c0c0"/>
<rect x="60" y="687" width="1" height="12" fill="#c0c0c0"/>
<rect x="64" y="687" width="1" height="12" fill="#c0c0c0"/>
<rect x="68" y="687" width="1" height="12" fill="#c0c0c0"/>
<rect x="72" y="687" width="1" height="11" fill="#c0c0c0"/>
<rect x="76" y="687" width="1" height="10" fill="#c0c0c0"/>
<rect x="80" y="687" width="1" height="9" fill="#c0c0c0"/>
<rect x="84" y="687" width="1" height="8" fill="#c0c0c0"/>
<rect x="88" y="687" width="1" height="7" fill="#c0c0c0"/>
<rect x="92" y="687" width="1" height="6" fill="#c0c0c0"/>
<rect x="96" y="687" width="1" height="5" fill="#c0c0c0"/>
<rect x="100" y="687" width="1" height="3" fill="#c0c0c0"/>
<rect x="104" y="687" width="1" height="2" fill="#c0c0c0"/>
<rect x="108" y="687" width="1" height="2" fill="#c0c0c0"/>
<rect x="112" y="687" width="1" height="1" fill="#c0c0c0"/>
<rect x="116" y="687" width="1" height="1" fill="#c0c0c0"/>
<rect x="120" y="686" width="1" height="2" fill="#c0c0c0"/>
<rect x="124" y="685" width="1" height="3" fill="#c0c0c0"/>
<rect x="128" y="685" width="1" height="3" fill="#c0c0c0"/>
<rect x="132" y="684" width="1" height="4" fill="#c0c0c0"/>
<rect x="136" y="684" width="1" height="4" fill="#c0c0c0"/>
<rect x="140" y="682" width="1" height="6" fill="#c0c0c0"/>
<rect x="144" y="682" width="1" height="6" fill="#c0c0c0"/>
<rect x="148" y="682" width="1" height="6" fill="#c0c0c0"/>
<rect x="152" y="682" width="1" height="6" fill="#c0c0c0"/>
<rect x="156" y="682" width="1" height="6" fill="#c0c0c0"/>
<rect x="160" y="683" width="1" height="5" fill="#c0c0c0"/>
<rect x="164" y="682" width="1" height="6" fill="#c0c0c0"/>
<rect x="168" y="681" width="1" height="7" fill="#c0c0c0"/>
<rect x="172" y="681" width="1" height="7" fill="#c0c0c0"/>
<rect x="176" y="681" width="1" height="7" fill="#c0c0c0"/>
<rect x="180" y="681" width="1" height="7" fill="#c0c0c0"/>
<rect x="184" y="680" width="1" height="8" fill="#c0c0c0"/>
<rect x="188" y="681" width="1" height="7" fill="#c0c0c0"/>
<rect x="192" y="681" width="1" height="7" fill="#c0c0c0"/>
<rect x="196" y="681" width="1" height="7" fill="#c0c0c0"/>
<rect x="200" y="681" width="1" height="7" fill="#c0c0c0"/>
<rect x="204" y="681" width="1" height="7" fill="#c0c0c0"/>
<rect x="208" y="682" width="1" height="6" fill="#c0c0c0"/>
<rect x="212" y="682" width="1" height="6" fill="#c0c0c0"/>
<rect x="216" y="682" width="1" height="6" fill="#c0c0c0"/>
<rect x="220" y="683" width="1" height="5" fill="#c0c0c0"/>
<rect x="224" y="683" width="1" height="5" fill="#c0c0c0"/>
<rect x="228" y="683" width="1" height="5" fill="#c0c0c0"/>
<rect x="232" y="682" width="1" height="6" fill="#c0c0c0"/>
<rect x="236" y="684" width="1" height="4" fill="#c0c0c0"/>
<rect x="240" y="685" width="1" height="3" fill="#c0c0c0"/>
<rect x="244" y="686" width="1" height="2" fill="#c0c0c0"/>
<rect x="248" y="687" width="1" height="2" fill="#c0c0c0"/>
<rect x="252" y="687" width="1" height="3" fill="#c0c0c0"/>
<rect x="256" y="687" width="1" height="4" fill="#c0c0c0"/>
<rect x="260" y="687" width="1" height="4" fill="#c0c0c0"/>
<rect x="264" y="687" width="1" height="4" fill="#c0c0c0"/>
<rect x="268" y="687" width="1" height="3" fill="#c0c0c0"/>
<rect x="272" y="687" width="1" height="2" fill="#c0c0c0"/>
<rect x="276" y="687" width="1" height="2" fill="#c0c0c0"/>
<rect x="280" y="687" width="1" height="2" fill="#c0c0c0"/>
<rect x="284" y="687" width="1" height="1" fill="#c0c0c0"/>
<rect x="288" y="687" width="1" height="1" fill="#c0c0c0"/>
<rect x="292" y="687" width="1" height="1" fill="#c0c0c0"/>
<rect x="296" y="686" width="1" height="2" fill="#c0c0c0"/>
<rect x="300" y="686" width="1" height="2" fill="#c0c0c0"/>
<rect x="304" y="686" width="1" height="2" fill="#c0c0c0"/>
<rect x="308" y="686" width="1" height="2" fill="#c0c0c0"/>
<rect x="312" y="686" width="1" height="2" fill="#c0c0c0"/>
<rect x="316" y="686" width="1" height="2" fill="#c0c0c0"/>
<rect x="320" y="686" width="1" height="2" fill="#c0c0c0"/>
<rect x="324" y="687" width="1" height="1" fill="#c0c0c0"/>
<rect x="328" y="687" width="1" height="1" fill="#c0c0c0"/>
<rect x="332" y="686" width="1" height="2" fill="#c0c0c0"/>
<rect x="336" y="685" width="1" height="3" fill="#c0c0c0"/>
<rect x="340" y="685" width="1" height="3" fill="#c0c0c0"/>
<rect x="344" y="684" width="1" height="4" fill="#c0c0c0"/>
<rect x="348" y="684" width="1" height="4" fill="#c0c0c0"/>
<rect x="352" y="684" width="1" height="4" fill="#c0c0c0"/>
<rect x="356" y="684" width="1" height="4" fill="#c0c0c0"/>
<rect x="360" y="684" width="1" height="4" fill="#c0c0c0"/>
<rect x="364" y="686" width="1" height="2" fill="#c0c0c0"/>
<rect x="368" y="687" width="1" height="1" fill="#c0c0c0"/>
<rect x="372" y="687" width="1" height="2" fill="#c0c0c0"/>
<rect x="376" y="687" width="1" height="3" fill="#c0c0c0"/>
<rect x="380" y="687" width="1" height="3" fill="#c0c0c0"/>
<rect x="384" y="687" width="1" height="5" fill="#c0c0c0"/>
<rect x="388" y="687" width="1" height="5" fill="#c0c0c0"/>
<rect x="392" y="687" width="1" height="6" fill="#c0c0c0"/>
<rect x="396" y="687" width="1" height="7" fill="#c0c0c0"/>
<rect x="400" y="687" width="1" height="8" fill="#c0c0c0"/>
<rect x="404" y="687" width="1" height="9" fill="#c0c0c0"/>
<rect x="408" y="687" width="1" height="9" fill="#c0c0c0"/>
<rect x="412" y="687" width="1" height="10" fill="#c0c0c0"/>
<rect x="416" y="687" width="1" height="10" fill="#c0c0c0"/>
<rect x="420" y="687" width="1" height="10" fill="#c0c0c0"/>
<rect x="424" y="687" width="1" height="10" fill="#c0c0c0"/>
<rect x="428" y="687" width="1" height="8" fill="#c0c0c0"/>
<rect x="432" y="687" width="1" height="7" fill="#c0c0c0"/>
<rect x="436" y="687" width="1" height="7" fill="#c0c0c0"/>
<rect x="440" y="687" width="1" height="6" fill="#c0c0c0"/>
<rect x="444" y="687" width="1" height="5" fill="#c0c0c0"/>
<rect x="448" y="687" width="1" height="5" fill="#c0c0c0"/>
<rect x="452" y="687" width="1" height="4" fill="#c0c0c0"/>
<rect x="456" y="687" width="1" height="3" fill="#c0c0c0"/>
<rect x="460" y="687" width="1" height="2" fill="#c0c0c0"/>
<rect x="464" y="687" width="1" height="1" fill="#c0c0c0"/>
<rect x="468" y="686" width="1" height="2" fill="#c0c0c0"/>
<rect x="472" y="686" width="1" height="2" fill="#c0c0c0"/>
<rect x="476" y="685" width="1" height="3" fill="#c0c0c0"/>
<rect x="480" y="684" width="1" height="4" fill="#c0c0c0"/>
<rect x="484" y="684" width="1" height="4" fill="#c0c0c0"/>
<rect x="488" y="684" width="1" height="4" fill="#c0c0c0"/>
<rect x="492" y="684" width="1" height="4" fill="#c0c0c0"/>
<rect x="496" y="684" width="1" height="4" fill="#c0c0c0"/>
<rect x="500" y="683" width="1" height="5" fill="#c0c0c0"/>
<rect x="504" y="683" width="1" height="5" fill="#c0c0c0"/>
<rect x="508" y="682" width="1" height="6" fill="#c0c0c0"/>
<rect x="512" y="682" width="1" height="6" fill="#c0c0c0"/>
<rect x="516" y="681" width="1" height="7" fill="#c0c0c0"/>
<rect x="520" y="681" width="1" height="7" fill="#c0c0c0"/>
<rect x="524" y="682" width="1" height="6" fill="#c0c0c0"/>
<rect x="528" y="682" width="1" height="6" fill="#c0c0c0"/>
<rect x="532" y="682" width="1" height="6" fill="#c0c0c0"/>
<rect x="536" y="682" width="1" height="6" fill="#c0c0c0"/>
<rect x="540" y="682" width="1" height="6" fill="#c0c0c0"/>
<rect x="544" y="682" width="1" height="6" fill="#c0c0c0"/>
<rect x="548" y="683" width="1" height="5" fill="#c0c0c0"/>
<rect x="552" y="685" width="1" height="3" fill="#c0c0c0"/>
<rect x="556" y="685" width="1" height="3" fill="#c0c0c0"/>
<rect x="560" y="685" width="1" height="3" fill="#c0c0c0"/>
<rect x="564" y="686" width="1" height="2" fill="#c0c0c0"/>
<rect x="568" y="686" width="1" height="2" fill="#c0c0c0"/>
<rect x="572" y="687" width="1" height="1" fill="#c0c0c0"/>
<rect x="576" y="687" width="1" height="1" fill="#c0c0c0"/>
<rect x="580" y="687" width="1" height="2" fill="#c0c0c0"/>
<rect x="584" y="687" width="1" height="2" fill="#c0c0c0"/>
<rect x="588" y="687" width="1" height="3" fill="#c0c0c0"/>
<rect x="592" y="687" width="1" height="4" fill="#c0c0c0"/>
<rect x="596" y="687" width="1" height="5" fill="#c0c0c0"/>
<rect x="600" y="687" width="1" height="5" fill="#c0c0c0"/>
<rect x="604" y="687" width="1" height="5" fill="#c0c0c0"/>
<rect x="608" y="687" width="1" height="5" fill="#c0c0c0"/>
<rect x="612" y="687" width="1" height="5" fill="#c0c0c0"/>
<rect x="616" y="687" width="1" height="5" fill="#c0c0c0"/>
<rect x="620" y="687" width="1" height="5" fill="#c0c0c0"/>
<rect x="624" y="687" width="1" height="5" fill="#c0c0c0"/>
<rect x="628" y="687" width="1" height="6" fill="#c0c0c0"/>
<rect x="632" y="687" width="1" height="7" fill="#c0c0c0"/>
<rect x="636" y="687" width="1" height="7" fill="#c0c0c0"/>
<rect x="640" y="687" width="1" height="9" fill="#c0c0c0"/>
<rect x="644" y="687" width="1" height="10" fill="#c0c0c0"/>
<rect x="648" y="687" width="1" height="11" fill="#c0c0c0"/>
<rect x="652" y="687" width="1" height="11" fill="#c0c0c0"/>
<rect x="656" y="687" width="1" height="11" fill="#c0c0c0"/>
<rect x="660" y="687" width="1" height="12" fill="#c0c0c0"/>
<rect x="664" y="687" width="1" height="11" fill="#c0c0c0"/>
<rect x="668" y="687" width="1" height="10" fill="#c0c0c0"/>
<rect x="672" y="687" width="1" height="9" fill="#c0c0c0"/>
<rect x="676" y="687" width="1" height="8" fill="#c0c0c0"/>
<rect x="680" y="687" width="1" height="7" fill="#c0c0c0"/>
<rect x="684" y="687" width="1" height="7" fill="#c0c0c0"/>
<rect x="688" y="687" width="1" height="6" fill="#c0c0c0"/>
<rect x="692" y="687" width="1" height="6" fill="#c0c0c0"/>
<rect x="696" y="687" width="1" height="5" fill="#c0c0c0"/>
<rect x="700" y="687" width="1" height="5" fill="#c0c0c0"/>
<rect x="704" y="687" width="1" height="4" fill="#c0c0c0"/>
<rect x="708" y="687" width="1" height="4" fill="#c0c0c0"/>
<rect x="712" y="687" width="1" height="4" fill="#c0c0c0"/>
<rect x="716" y="687" width="1" height="3" fill="#c0c0c0"/>
<rect x="720" y="687" width="1" height="1" fill="#c0c0c0"/>
<rect x="724" y="687" width="1" height="1" fill="#c0c0c0"/>
<rect x="728" y="686" width="1" height="2" fill="#c0c0c0"/>
<rect x="732" y="685" width="1" height="3" fill="#c0c0c0"/>
<rect x="736" y="684" width="1" height="4" fill="#c0c0c0"/>
<rect x="740" y="683" width="1" height="5" fill="#c0c0c0"/>
<rect x="744" y="682" width="1" height="6" fill="#c0c0c0"/>
<rect x="748" y="681" width="1" height="7" fill="#c0c0c0"/>
<rect x="752" y="681" width="1" height="7" fill="#c0c0c0"/>
<rect x="756" y="680" width="1" height="8" fill="#c0c0c0"/>
<rect x="760" y="679" width="1" height="9" fill="#c0c0c0"/>
<rect x="764" y="678" width="1" height="10" fill="#c0c0c0"/>
<rect x="768" y="678" width="1" height="10" fill="#c0c0c0"/>
<rect x="772" y="678" width="1" height="10" fill="#c0c0c0"/>
<rect x="776" y="677" width="1" height="11" fill="#c0c0c0"/>
<rect x="780" y="677" width="1" height="11" fill="#c0c0c0"/>
<rect x="784" y="677" width="1" height="11" fill="#c0c0c0"/>
<rect x="788" y="678" width="1" height="10" fill="#c0c0c0"/>
<rect x="792" y="679" width="1" height="9" fill="#c0c0c0"/>
<rect x="796" y="680" width="1" height="8" fill="#c0c0c0"/>
<rect x="800" y="680" width="1" height="8" fill="#c0c0c0"/>
<rect x="804" y="681" width="1" height="7" fill="#c0c0c0"/>
<rect x="808" y="682" width="1" height="6" fill="#c0c0c0"/>
<rect x="812" y="682" width="1" height="6" fill="#c0c0c0"/>
<rect x="816" y="683" width="1" height="5" fill="#c0c0c0"/>
<rect x="820" y="683" width="1" height="5" fill="#c0c0c0"/>
<rect x="824" y="684" width="1" height="4" fill="#c0c0c0"/>
<rect x="828" y="684" width="1" height="4" fill="#c0c0c0"/>
<rect x="832" y="684" width="1" height="4" fill="#c0c0c0"/>
<rect x="836" y="683" width="1" height="5" fill="#c0c0c0"/>
<rect x="840" y="682" width="1" height="6" fill="#c0c0c0"/>
<rect x="844" y="681" width="1" height="7" fill="#c0c0c0"/>
<rect x="848" y="680" width="1" height="8" fill="#c0c0c0"/>
<rect x="852" y="679" width="1" height="9" fill="#c0c0c0"/>
<rect x="856" y="679" width="1" height="9" fill="#c0c0c0"/>
<rect x="860" y="679" width="1" height="9" fill="#c0c0c0"/>
<rect x="864" y="679" width="1" height="9" fill="#c0c0c0"/>
<rect x="868" y="678" width="1" height="10" fill="#c0c0c0"/>
<rect x="872" y="678" width="1" height="10" fill="#c0c0c0"/>
<rect x="876" y="677" width="1" height="11" fill="#c0c0c0"/>
<rect x="880" y="672" width="1" height="16" fill="#c0c0c0"/>
<rect x="884" y="669" width="1" height="19" fill="#c0c0c0"/>
<rect x="888" y="665" width="1" height="23" fill="#c0c0c0"/>
<rect x="892" y="661" width="1" height="27" fill="#c0c0c0"/>
<rect x="896" y="659" width="1" height="29" fill="#c0c0c0"/>
<rect x="900" y="657" width="1" height="31" fill="#c0c0c0"/>
<rect x="904" y="652" width="1" height="36" fill="#c0c0c0"/>
<rect x="908" y="645" width="1" height="43" fill="#c0c0c0"/>
<rect x="912" y="640" width="1" height="48" fill="#c0c0c0"/>
<rect x="916" y="639" width="1" height="49" fill="#c0c0c0"/>
<rect x="920" y="637" width="1" height="51" fill="#c0c0c0"/>
<rect x="924" y="635" width="1" height="53" fill="#c0c0c0"/>
<rect x="928" y="635" width="1" height="53" fill="#c0c0c0"/>
<rect x="932" y="637" width="1" height="51" fill="#c0c0c0"/>
<rect x="936" y="643" width="1" height="45" fill="#c0c0c0"/>
<rect x="940" y="648" width="1" height="40" fill="#c0c0c0"/>
<rect x="944" y="654" width="1" height="34" fill="#c0c0c0"/>
<rect x="948" y="657" width="1" height="31" fill="#c0c0c0"/>
<rect x="952" y="659" width="1" height="29" fill="#c0c0c0"/>
<rect x="956" y="660" width="1" height="28" fill="#c0c0c0"/>
<rect x="960" y="663" width="1" height="25" fill="#c0c0c0"/>
<rect x="964" y="665" width="1" height="23" fill="#c0c0c0"/>
<rect x="968" y="666" width="1" height="22" fill="#c0c0c0"/>
<rect x="972" y="668" width="1" height="20" fill="#c0c0c0"/>
<rect x="976" y="672" width="1" height="16" fill="#c0c0c0"/>
<rect x="980" y="675" width="1" height="13" fill="#c0c0c0"/>
<rect x="984" y="677" width="1" height="11" fill="#c0c0c0"/>
<rect x="988" y="679" width="1" height="9" fill="#c0c0c0"/>
<rect x="992" y="682" width="1" height="6" fill="#c0c0c0"/>
<rect x="996" y="683" width="1" height="5" fill="#c0c0c0"/>
<rect x="1000" y="685" width="1" height="3" fill="#c0c0c0"/>
<rect x="1004" y="684" width="1" height="4" fill="#c0c0c0"/>
<rect x="1008" y="683" width="1" height="5" fill="#c0c0c0"/>
<rect x="1012" y="683" width="1" height="5" fill="#c0c0c0"/>
<rect x="1016" y="684" width="1" height="4" fill="#c0c0c0"/>
<rect x="1020" y="684" width="1" height="4" fill="#c0c0c0"/>
<rect x="1024" y="682" width="1" height="6" fill="#c0c0c0"/>
<rect x="1028" y="682" width="1" height="6" fill="#c0c0c0"/>
<rect x="1032" y="683" width="1" height="5" fill="#c0c0c0"/>
<rect x="1036" y="683" width="1" height="5" fill="#c0c0c0"/>
<rect x="1040" y="682" width="1" height="6" fill="#c0c0c0"/>
<rect x="1044" y="683" width="1" height="5" fill="#c0c0c0"/>
<rect x="1048" y="685" width="1" height="3" fill="#c0c0c0"/>
<rect x="1052" y="687" width="1" height="1" fill="#c0c0c0"/>
<rect x="1056" y="687" width="1" height="2" fill="#c0c0c0"/>
<rect x="1060" y="687" width="1" height="1" fill="#c0c0c0"/>
<rect x="1064" y="687" width="1" height="1" fill="#c0c0c0"/>
<rect x="1068" y="686" width="1" height="2" fill="#c0c0c0"/>
<rect x="1072" y="686" width="1" height="2" fill="#c0c0c0"/>
<rect x="1076" y="685" width="1" height="3" fill="#c0c0c0"/>
<rect x="1080" y="686" width="1" height="2" fill="#c0c0c0"/>
<rect x="1084" y="687" width="1" height="2" fill="#c0c0c0"/>
<rect x="1088" y="687" width="1" height="4" fill="#c0c0c0"/>
<rect x="1092" y="687" width="1" height="3" fill="#c0c0c0"/>
<rect x="1096" y="687" width="1" height="3" fill="#c0c0c0"/>
<rect x="1100" y="687" width="1" height="2" fill="#c0c0c0"/>
<rect x="1104" y="687" width="1" height="1" fill="#c0c0c0"/>
<rect x="1108" y="686" width="1" height="2" fill="#c0c0c0"/>
<rect x="1112" y="685" width="1" height="3" fill="#c0c0c0"/>
<rect x="1116" y="687" width="1" height="1" fill="#c0c0c0"/>
<rect x="1120" y="687" width="1" height="3" fill="#c0c0c0"/>
<rect x="1124" y="687" width="1" height="4" fill="#c0c0c0"/>
<rect x="1128" y="687" width="1" height="5" fill="#c0c0c0"/>
<rect x="1132" y="687" width="1" height="4" fill="#c0c0c0"/>
<rect x="1136" y="687" width="1" height="4" fill="#c0c0c0"/>
<rect x="1140" y="687" width="1" height="4" fill="#c0c0c0"/>
<rect x="1144" y="687" width="1" height="6" fill="#c0c0c0"/>
<rect x="1148" y="687" width="1" height="8" fill="#c0c0c0"/>
<rect x="1152" y="687" width="1" height="10" fill="#c0c0c0"/>
<rect x="1156" y="687" width="1" height="11" fill="#c0c0c0"/>
<rect x="1160" y="687" width="1" height="11" fill="#c0c0c0"/>
<rect x="1164" y="687" width="1" height="14" fill="#c0c0c0"/>
<rect x="1168" y="687" width="1" height="18" fill="#c0c0c0"/>
<rect x="1172" y="687" width="1" height="21" fill="#c0c0c0"/>
<rect x="1176" y="687" width="1" height="22" fill="#c0c0c0"/>
<rect x="1180" y="687" width="1" height="25" fill="#c0c0c0"/>
<rect x="1184" y="687" width="1" height="26" fill="#c0c0c0"/>
<rect x="1188" y="687" width="1" height="27" fill="#c0c0c0"/>
<rect x="1192" y="687" width="1" height="28" fill="#c0c0c0"/>
<rect x="1196" y="687" width="1" height="28" fill="#c0c0c0"/>
<rect x="1200" y="687" width="1" height="26" fill="#c0c0c0"/>
<rect x="1204" y="687" width="1" height="23" fill="#c0c0c0"/>
<rect x="1208" y="687" width="1" height="21" fill="#c0c0c0"/>
<rect x="1212" y="687" width="1" height="18" fill="#c0c0c0"/>
<rect x="1216" y="687" width="1" height="17" fill="#c0c0c0"/>
<rect x="1220" y="687" width="1" height="16" fill="#c0c0c0"/>
<rect x="1224" y="687" width="1" height="15" fill="#c0c0c0"/>
<rect x="1228" y="687" width="1" height="13" fill="#c0c0c0"/>
<rect x="1232" y="687" width="1" height="12" fill="#c0c0c0"/>
<rect x="1236" y="687" width="1" height="12" fill="#c0c0c0"/>
<rect x="1240" y="687" width="1" height="12" fill="#c0c0c0"/>
<rect x="1244" y="687" width="1" height="10" fill="#c0c0c0"/>
<rect x="1248" y="687" width="1" height="9" fill="#c0c0c0"/>
<rect x="1252" y="687" width="1" height="6" fill="#c0c0c0"/>
<rect x="1256" y="687" width="1" height="5" fill="#c0c0c0"/>
<rect x="1260" y="687" width="1" height="4" fill="#c0c0c0"/>
<rect x="1264" y="687" width="1" height="4" fill="#c0c0c0"/>
<rect x="1268" y="687" width="1" height="4" fill="#c0c0c0"/>
</g>
<path d="M949 644h2v1h-2zM162 682h3v1h-3zM168 682h3v1h-3zM174 682h3v1h-3zM180 682h2v1h-2zM218 682h1v1h-1zM222 682h3v1h-3zM228 682h3v1h-3zM234 682h3v1h-3zM528 682h3v1h-3zM534 682h3v1h-3zM540 682h3v1h-3zM546 682h3v1h-3zM552 682h2v1h-2zM758 682h1v1h-1zM762 682h3v1h-3zM822 682h3v1h-3zM828 682h2v1h-2zM852 682h3v1h-3zM1014 682h3v1h-3zM0 695h2v1h-2zM96 695h2v1h-2zM422 695h1v1h-1zM426 695h3v1h-3zM432 695h3v1h-3zM438 695h3v1h-3zM654 695h3v1h-3zM660 695h2v1h-2zM686 695h1v1h-1zM1166 695h1v1h-1zM1260 695h2v1h-2zM138 685h3v1h-3zM144 685h2v1h-2zM252 685h3v1h-3zM350 685h1v1h-1zM354 685h3v1h-3zM360 685h3v1h-3zM366 685h3v1h-3zM372 685h2v1h-2zM492 685h3v1h-3zM498 685h3v1h-3zM570 685h3v1h-3zM576 685h2v1h-2zM746 685h1v1h-1zM1062 685h3v1h-3zM1068 685h2v1h-2zM894 672h1v1h-1zM991 672h2v1h-2zM782 678h1v1h-1zM786 678h3v1h-3zM792 678h3v1h-3zM798 678h3v1h-3zM878 678h1v1h-1zM1003 678h2v1h-2zM942 641h3v1h-3zM156 683h3v1h-3zM240 683h3v1h-3zM510 683h3v1h-3zM516 683h3v1h-3zM522 683h3v1h-3zM554 683h1v1h-1zM558 683h3v1h-3zM756 683h2v1h-2zM830 683h1v1h-1zM834 683h3v1h-3zM840 683h3v1h-3zM846 683h3v1h-3zM1020 683h3v1h-3zM1026 683h3v1h-3zM1032 683h3v1h-3zM1038 683h3v1h-3zM1044 683h3v1h-3zM1050 683h3v1h-3zM1183 703h2v1h-2zM126 687h3v1h-3zM132 687h2v1h-2zM264 687h2v1h-2zM300 687h3v1h-3zM306 687h3v1h-3zM312 687h2v1h-2zM384 687h2v1h-2zM480 687h3v1h-3zM588 687h3v1h-3zM738 687h3v1h-3zM1082 687h1v1h-1zM1086 687h3v1h-3zM1092 687h3v1h-3zM98 694h1v1h-1zM414 694h3v1h-3zM420 694h2v1h-2zM444 694h3v1h-3zM650 694h1v1h-1zM690 694h3v1h-3zM696 694h2v1h-2zM1164 694h2v1h-2zM1262 694h1v1h-1zM102 693h3v1h-3zM410 693h1v1h-1zM450 693h3v1h-3zM642 693h3v1h-3zM648 693h2v1h-2zM698 693h1v1h-1zM1158 693h3v1h-3zM1266 693h3v1h-3zM120 689h2v1h-2zM276 689h3v1h-3zM282 689h3v1h-3zM288 689h2v1h-2zM390 689h3v1h-3zM470 689h1v1h-1zM600 689h3v1h-3zM726 689h3v1h-3zM1140 689h3v1h-3zM2 696h1v1h-1zM86 696h1v1h-1zM90 696h3v1h-3zM662 696h1v1h-1zM666 696h3v1h-3zM672 696h3v1h-3zM678 696h3v1h-3zM684 696h2v1h-2zM1170 696h1v1h-1zM1255 696h2v1h-2zM182 681h1v1h-1zM186 681h3v1h-3zM192 681h3v1h-3zM198 681h3v1h-3zM204 681h3v1h-3zM210 681h3v1h-3zM216 681h2v1h-2zM768 681h2v1h-2zM818 681h1v1h-1zM858 681h3v1h-3zM864 681h2v1h-2zM1010 681h1v1h-1zM918 652h2v1h-2zM961 652h1v1h-1zM122 688h1v1h-1zM266 688h1v1h-1zM270 688h3v1h-3zM290 688h1v1h-1zM294 688h3v1h-3zM386 688h1v1h-1zM474 688h3v1h-3zM594 688h3v1h-3zM732 688h3v1h-3zM1098 688h3v1h-3zM1104 688h3v1h-3zM1110 688h3v1h-3zM1116 688h3v1h-3zM1122 688h3v1h-3zM1128 688h3v1h-3zM1134 688h3v1h-3zM882 677h3v1h-3zM1002 677h1v1h-1zM134 686h1v1h-1zM258 686h3v1h-3zM314 686h1v1h-1zM318 686h3v1h-3zM324 686h3v1h-3zM330 686h3v1h-3zM336 686h3v1h-3zM342 686h3v1h-3zM348 686h2v1h-2zM374 686h1v1h-1zM378 686h3v1h-3zM486 686h3v1h-3zM578 686h1v1h-1zM582 686h3v1h-3zM744 686h2v1h-2zM1070 686h1v1h-1zM1074 686h3v1h-3zM1080 686h2v1h-2zM110 691h1v1h-1zM398 691h1v1h-1zM402 691h3v1h-3zM458 691h1v1h-1zM614 691h1v1h-1zM618 691h3v1h-3zM624 691h3v1h-3zM630 691h3v1h-3zM710 691h1v1h-1zM714 691h3v1h-3zM1152 691h2v1h-2zM6 697h3v1h-3zM78 697h3v1h-3zM84 697h2v1h-2zM1171 697h2v1h-2zM1254 697h1v1h-1zM146 684h1v1h-1zM150 684h3v1h-3zM246 684h3v1h-3zM504 684h3v1h-3zM564 684h3v1h-3zM750 684h3v1h-3zM1056 684h3v1h-3zM889 674h2v1h-2zM996 674h1v1h-1zM114 690h3v1h-3zM396 690h2v1h-2zM462 690h3v1h-3zM468 690h2v1h-2zM606 690h3v1h-3zM612 690h2v1h-2zM720 690h3v1h-3zM1146 690h3v1h-3zM108 692h2v1h-2zM408 692h2v1h-2zM456 692h2v1h-2zM636 692h3v1h-3zM702 692h3v1h-3zM708 692h2v1h-2zM1154 692h1v1h-1zM770 680h1v1h-1zM810 680h3v1h-3zM816 680h2v1h-2zM866 680h1v1h-1zM870 680h3v1h-3zM1008 680h2v1h-2zM888 675h1v1h-1zM997 675h2v1h-2zM895 671h2v1h-2zM990 671h1v1h-1zM14 699h1v1h-1zM60 699h3v1h-3zM66 699h3v1h-3zM1176 699h1v1h-1zM1248 699h2v1h-2zM907 663h1v1h-1zM18 700h3v1h-3zM24 700h2v1h-2zM48 700h3v1h-3zM54 700h3v1h-3zM1177 700h2v1h-2zM1242 700h3v1h-3zM900 669h1v1h-1zM986 669h1v1h-1zM1202 711h1v1h-1zM1206 711h3v1h-3zM1212 711h2v1h-2zM926 645h1v1h-1zM979 665h2v1h-2zM1195 709h2v1h-2zM1218 709h3v1h-3zM936 640h3v1h-3zM12 698h2v1h-2zM72 698h3v1h-3zM1250 698h1v1h-1zM1224 707h2v1h-2zM26 701h1v1h-1zM30 701h3v1h-3zM36 701h3v1h-3zM42 701h3v1h-3zM1238 701h1v1h-1zM920 651h1v1h-1zM960 651h1v1h-1zM774 679h3v1h-3zM780 679h2v1h-2zM804 679h3v1h-3zM876 679h2v1h-2zM914 656h1v1h-1zM966 656h2v1h-2zM1231 704h2v1h-2zM956 648h1v1h-1zM924 647h1v1h-1zM954 647h2v1h-2zM1189 706h2v1h-2zM1226 706h1v1h-1zM902 667h1v1h-1zM984 667h1v1h-1zM925 646h1v1h-1zM1200 710h2v1h-2zM1214 710h1v1h-1zM930 643h1v1h-1zM948 643h1v1h-1zM962 653h1v1h-1zM913 657h1v1h-1zM968 657h1v1h-1zM1188 705h1v1h-1zM1230 705h1v1h-1zM931 642h2v1h-2zM908 662h1v1h-1zM974 662h1v1h-1zM1182 702h1v1h-1zM1236 702h2v1h-2zM972 660h1v1h-1zM1194 708h1v1h-1zM906 664h1v1h-1zM978 664h1v1h-1zM901 668h1v1h-1zM985 668h1v1h-1zM973 661h1v1h-1zM912 658h1v1h-1z" fill="#ff0000" shape-rendering="crispEdges"/>
</g>
<text transform="translate(1600,638.5) scale(0.9,1)" font-size="10" fill="#000" text-anchor="start"  stroke="#000" stroke-width="0.15">0.032972</text>
<text transform="translate(1600,691.0) scale(0.9,1)" font-size="10" fill="#000" text-anchor="start"  stroke="#000" stroke-width="0.15">0.00</text>
<text transform="translate(1600,716.8000000000001) scale(0.9,1)" font-size="10" fill="#000" text-anchor="start"  stroke="#000" stroke-width="0.15">-0.018154</text>
<rect x="1597" y="629" width="1" height="1" fill="#000"/>
<rect x="1597" y="687" width="1" height="1" fill="#000"/>
<rect x="4" y="720" width="1" height="3" fill="#000"/>
<text x="3.4" y="732.2" font-size="10" fill="#000" text-anchor="start" textLength="49" lengthAdjust="spacingAndGlyphs"  stroke="#000" stroke-width="0.15">28 Jun 2019</text>
<rect x="68" y="720" width="1" height="3" fill="#000"/>
<text x="67.4" y="732.2" font-size="10" fill="#000" text-anchor="start" textLength="46.4" lengthAdjust="spacingAndGlyphs"  stroke="#000" stroke-width="0.15">17 Jul 2019</text>
<rect x="132" y="720" width="1" height="3" fill="#000"/>
<text x="131.4" y="732.2" font-size="10" fill="#000" text-anchor="start" textLength="47.7" lengthAdjust="spacingAndGlyphs"  stroke="#000" stroke-width="0.15">5 Aug 2019</text>
<rect x="196" y="720" width="1" height="3" fill="#000"/>
<text x="195.4" y="732.2" font-size="10" fill="#000" text-anchor="start" textLength="53" lengthAdjust="spacingAndGlyphs"  stroke="#000" stroke-width="0.15">23 Aug 2019</text>
<rect x="260" y="720" width="1" height="3" fill="#000"/>
<text x="259.4" y="732.2" font-size="10" fill="#000" text-anchor="start" textLength="51.8" lengthAdjust="spacingAndGlyphs"  stroke="#000" stroke-width="0.15">11 Sep 2019</text>
<rect x="324" y="720" width="1" height="3" fill="#000"/>
<text x="323.4" y="732.2" font-size="10" fill="#000" text-anchor="start" textLength="51.6" lengthAdjust="spacingAndGlyphs"  stroke="#000" stroke-width="0.15">30 Sep 2019</text>
<rect x="388" y="720" width="1" height="3" fill="#000"/>
<text x="387.4" y="732.2" font-size="10" fill="#000" text-anchor="start" textLength="50.5" lengthAdjust="spacingAndGlyphs"  stroke="#000" stroke-width="0.15">18 Oct 2019</text>
<rect x="452" y="720" width="1" height="3" fill="#000"/>
<text x="451.4" y="732.2" font-size="10" fill="#000" text-anchor="start" textLength="48.1" lengthAdjust="spacingAndGlyphs"  stroke="#000" stroke-width="0.15">6 Nov 2019</text>
<rect x="516" y="720" width="1" height="3" fill="#000"/>
<text x="515.4" y="732.2" font-size="10" fill="#000" text-anchor="start" textLength="53.7" lengthAdjust="spacingAndGlyphs"  stroke="#000" stroke-width="0.15">25 Nov 2019</text>
<rect x="580" y="720" width="1" height="3" fill="#000"/>
<text x="579.4" y="732.2" font-size="10" fill="#000" text-anchor="start" textLength="51.3" lengthAdjust="spacingAndGlyphs"  stroke="#000" stroke-width="0.15">13 Dec 2019</text>
<rect x="644" y="720" width="1" height="3" fill="#000"/>
<text x="643.4" y="732.2" font-size="10" fill="#000" text-anchor="start" textLength="44" lengthAdjust="spacingAndGlyphs"  stroke="#000" stroke-width="0.15">1 Jan 2020</text>
<rect x="708" y="720" width="1" height="3" fill="#000"/>
<text x="707.4" y="732.2" font-size="10" fill="#000" text-anchor="start" textLength="49.2" lengthAdjust="spacingAndGlyphs"  stroke="#000" stroke-width="0.15">20 Jan 2020</text>
<rect x="772" y="720" width="1" height="3" fill="#000"/>
<text x="771.4" y="732.2" font-size="10" fill="#000" text-anchor="start" textLength="46.3" lengthAdjust="spacingAndGlyphs"  stroke="#000" stroke-width="0.15">7 Feb 2020</text>
<rect x="836" y="720" width="1" height="3" fill="#000"/>
<text x="835.4" y="732.2" font-size="10" fill="#000" text-anchor="start" textLength="52" lengthAdjust="spacingAndGlyphs"  stroke="#000" stroke-width="0.15">26 Feb 2020</text>
<rect x="900" y="720" width="1" height="3" fill="#000"/>
<text x="899.4" y="732.2" font-size="10" fill="#000" text-anchor="start" textLength="51.7" lengthAdjust="spacingAndGlyphs"  stroke="#000" stroke-width="0.15">16 Mar 2020</text>
<rect x="964" y="720" width="1" height="3" fill="#000"/>
<text x="963.4" y="732.2" font-size="10" fill="#000" text-anchor="start" textLength="45.3" lengthAdjust="spacingAndGlyphs"  stroke="#000" stroke-width="0.15">3 Apr 2020</text>
<rect x="1028" y="720" width="1" height="3" fill="#000"/>
<text x="1027.4" y="732.2" font-size="10" fill="#000" text-anchor="start" textLength="51" lengthAdjust="spacingAndGlyphs"  stroke="#000" stroke-width="0.15">22 Apr 2020</text>
<rect x="1092" y="720" width="1" height="3" fill="#000"/>
<text x="1091.4" y="732.2" font-size="10" fill="#000" text-anchor="start" textLength="54.3" lengthAdjust="spacingAndGlyphs"  stroke="#000" stroke-width="0.15">11 May 2020</text>
<rect x="1156" y="720" width="1" height="3" fill="#000"/>
<text x="1155.4" y="732.2" font-size="10" fill="#000" text-anchor="start" textLength="54.3" lengthAdjust="spacingAndGlyphs"  stroke="#000" stroke-width="0.15">29 May 2020</text>
<rect x="1220" y="720" width="1" height="3" fill="#000"/>
<text x="1219.4" y="732.2" font-size="10" fill="#000" text-anchor="start" textLength="49.3" lengthAdjust="spacingAndGlyphs"  stroke="#000" stroke-width="0.15">17 Jun 2020</text>
<rect x="0" y="740" width="1641" height="1" fill="#ececec"/>
<rect x="0" y="741" width="1641" height="1" fill="#fff"/>
<rect x="0" y="742" width="1641" height="1" fill="#000"/>
<rect x="0" y="743" width="1641" height="1" fill="#fff"/>
<rect x="0" y="744" width="1641" height="18" fill="#f0f0f0"/>
<rect x="0" y="762" width="1641" height="1" fill="#fff"/>
<rect x="0" y="763" width="1641" height="3" fill="#f0f0f0"/>
<rect x="0" y="743" width="1" height="18" fill="#696969"/>
<rect x="312" y="743" width="1" height="19" fill="#fff"/>
<rect x="314" y="742" width="102" height="18" fill="#fff"/>
<rect x="313" y="742" width="1" height="19" fill="#000"/>
<rect x="416" y="742" width="1" height="19" fill="#000"/>
<rect x="313" y="760" width="104" height="1" fill="#000"/>
<text x="17.2" y="757" font-size="12" fill="#6d6d6d" text-anchor="start" textLength="79.7" lengthAdjust="spacingAndGlyphs" >EURUSD,Daily</text>
<text x="119.3" y="757" font-size="12" fill="#6d6d6d" text-anchor="start" textLength="78.6" lengthAdjust="spacingAndGlyphs" >USDCHF,Daily</text>
<text x="220" y="757" font-size="12" fill="#6d6d6d" text-anchor="start" textLength="81.9" lengthAdjust="spacingAndGlyphs" >AUDUSD,Daily</text>
<text x="324" y="757" font-size="12" fill="#000" text-anchor="start" textLength="81" lengthAdjust="spacingAndGlyphs" >USDCAD,Daily</text>
<text x="427.4" y="757" font-size="12" fill="#6d6d6d" text-anchor="start" textLength="82.4" lengthAdjust="spacingAndGlyphs" >USDCNH,Daily</text>
<text x="532.3" y="757" font-size="12" fill="#6d6d6d" text-anchor="start" textLength="76.8" lengthAdjust="spacingAndGlyphs" >EURUSD,M15</text>
<text x="632.2" y="757" font-size="12" fill="#6d6d6d" text-anchor="start" textLength="77.3" lengthAdjust="spacingAndGlyphs" >GBPUSD,M30</text>
<text x="732" y="757" font-size="12" fill="#6d6d6d" text-anchor="start" textLength="81.1" lengthAdjust="spacingAndGlyphs" >XAUUSD,Daily</text>
<text x="836.1" y="757" font-size="12" fill="#6d6d6d" text-anchor="start" textLength="49.7" lengthAdjust="spacingAndGlyphs" >HK50,H1</text>
<text x="908.3" y="757" font-size="12" fill="#6d6d6d" text-anchor="start" textLength="56.3" lengthAdjust="spacingAndGlyphs" >UK100,H1</text>
<text x="988.2" y="757" font-size="12" fill="#6d6d6d" text-anchor="start" textLength="56.5" lengthAdjust="spacingAndGlyphs" >UK100,H1</text>
<text x="1068.3" y="757" font-size="12" fill="#6d6d6d" text-anchor="start" textLength="56.3" lengthAdjust="spacingAndGlyphs" >GER30,H1</text>
<text x="1147.6" y="757" font-size="12" fill="#6d6d6d" text-anchor="start" textLength="53.8" lengthAdjust="spacingAndGlyphs" >FRA40,H1</text>
<text x="1223.1" y="757" font-size="12" fill="#6d6d6d" text-anchor="start" textLength="50.7" lengthAdjust="spacingAndGlyphs" >USOil,H4</text>
<text x="1295.4" y="757" font-size="12" fill="#6d6d6d" text-anchor="start" textLength="62.5" lengthAdjust="spacingAndGlyphs" >USDJPY,H1</text>
<text x="1380.2" y="757" font-size="12" fill="#6d6d6d" text-anchor="start" textLength="56.2" lengthAdjust="spacingAndGlyphs" >DJ30,M15</text>
<rect x="110" y="746" width="1" height="12" fill="#6d6d6d"/>
<rect x="210" y="746" width="1" height="12" fill="#6d6d6d"/>
<rect x="522" y="746" width="1" height="12" fill="#6d6d6d"/>
<rect x="622" y="746" width="1" height="12" fill="#6d6d6d"/>
<rect x="722" y="746" width="1" height="12" fill="#6d6d6d"/>
<rect x="826" y="746" width="1" height="12" fill="#6d6d6d"/>
<rect x="897" y="746" width="1" height="12" fill="#6d6d6d"/>
<rect x="977" y="746" width="1" height="12" fill="#6d6d6d"/>
<rect x="1058" y="746" width="1" height="12" fill="#6d6d6d"/>
<rect x="1137" y="746" width="1" height="12" fill="#6d6d6d"/>
<rect x="1213" y="746" width="1" height="12" fill="#6d6d6d"/>
<rect x="1286" y="746" width="1" height="12" fill="#6d6d6d"/>
<rect x="1369" y="746" width="1" height="12" fill="#6d6d6d"/>
<rect x="1450" y="746" width="1" height="12" fill="#6d6d6d"/>
<path d="M1611 751 L1615 748 L1615 754 Z" fill="#888"/>
<path d="M1634 751 L1630 748 L1630 754 Z" fill="#888"/>
</svg></body></html>
